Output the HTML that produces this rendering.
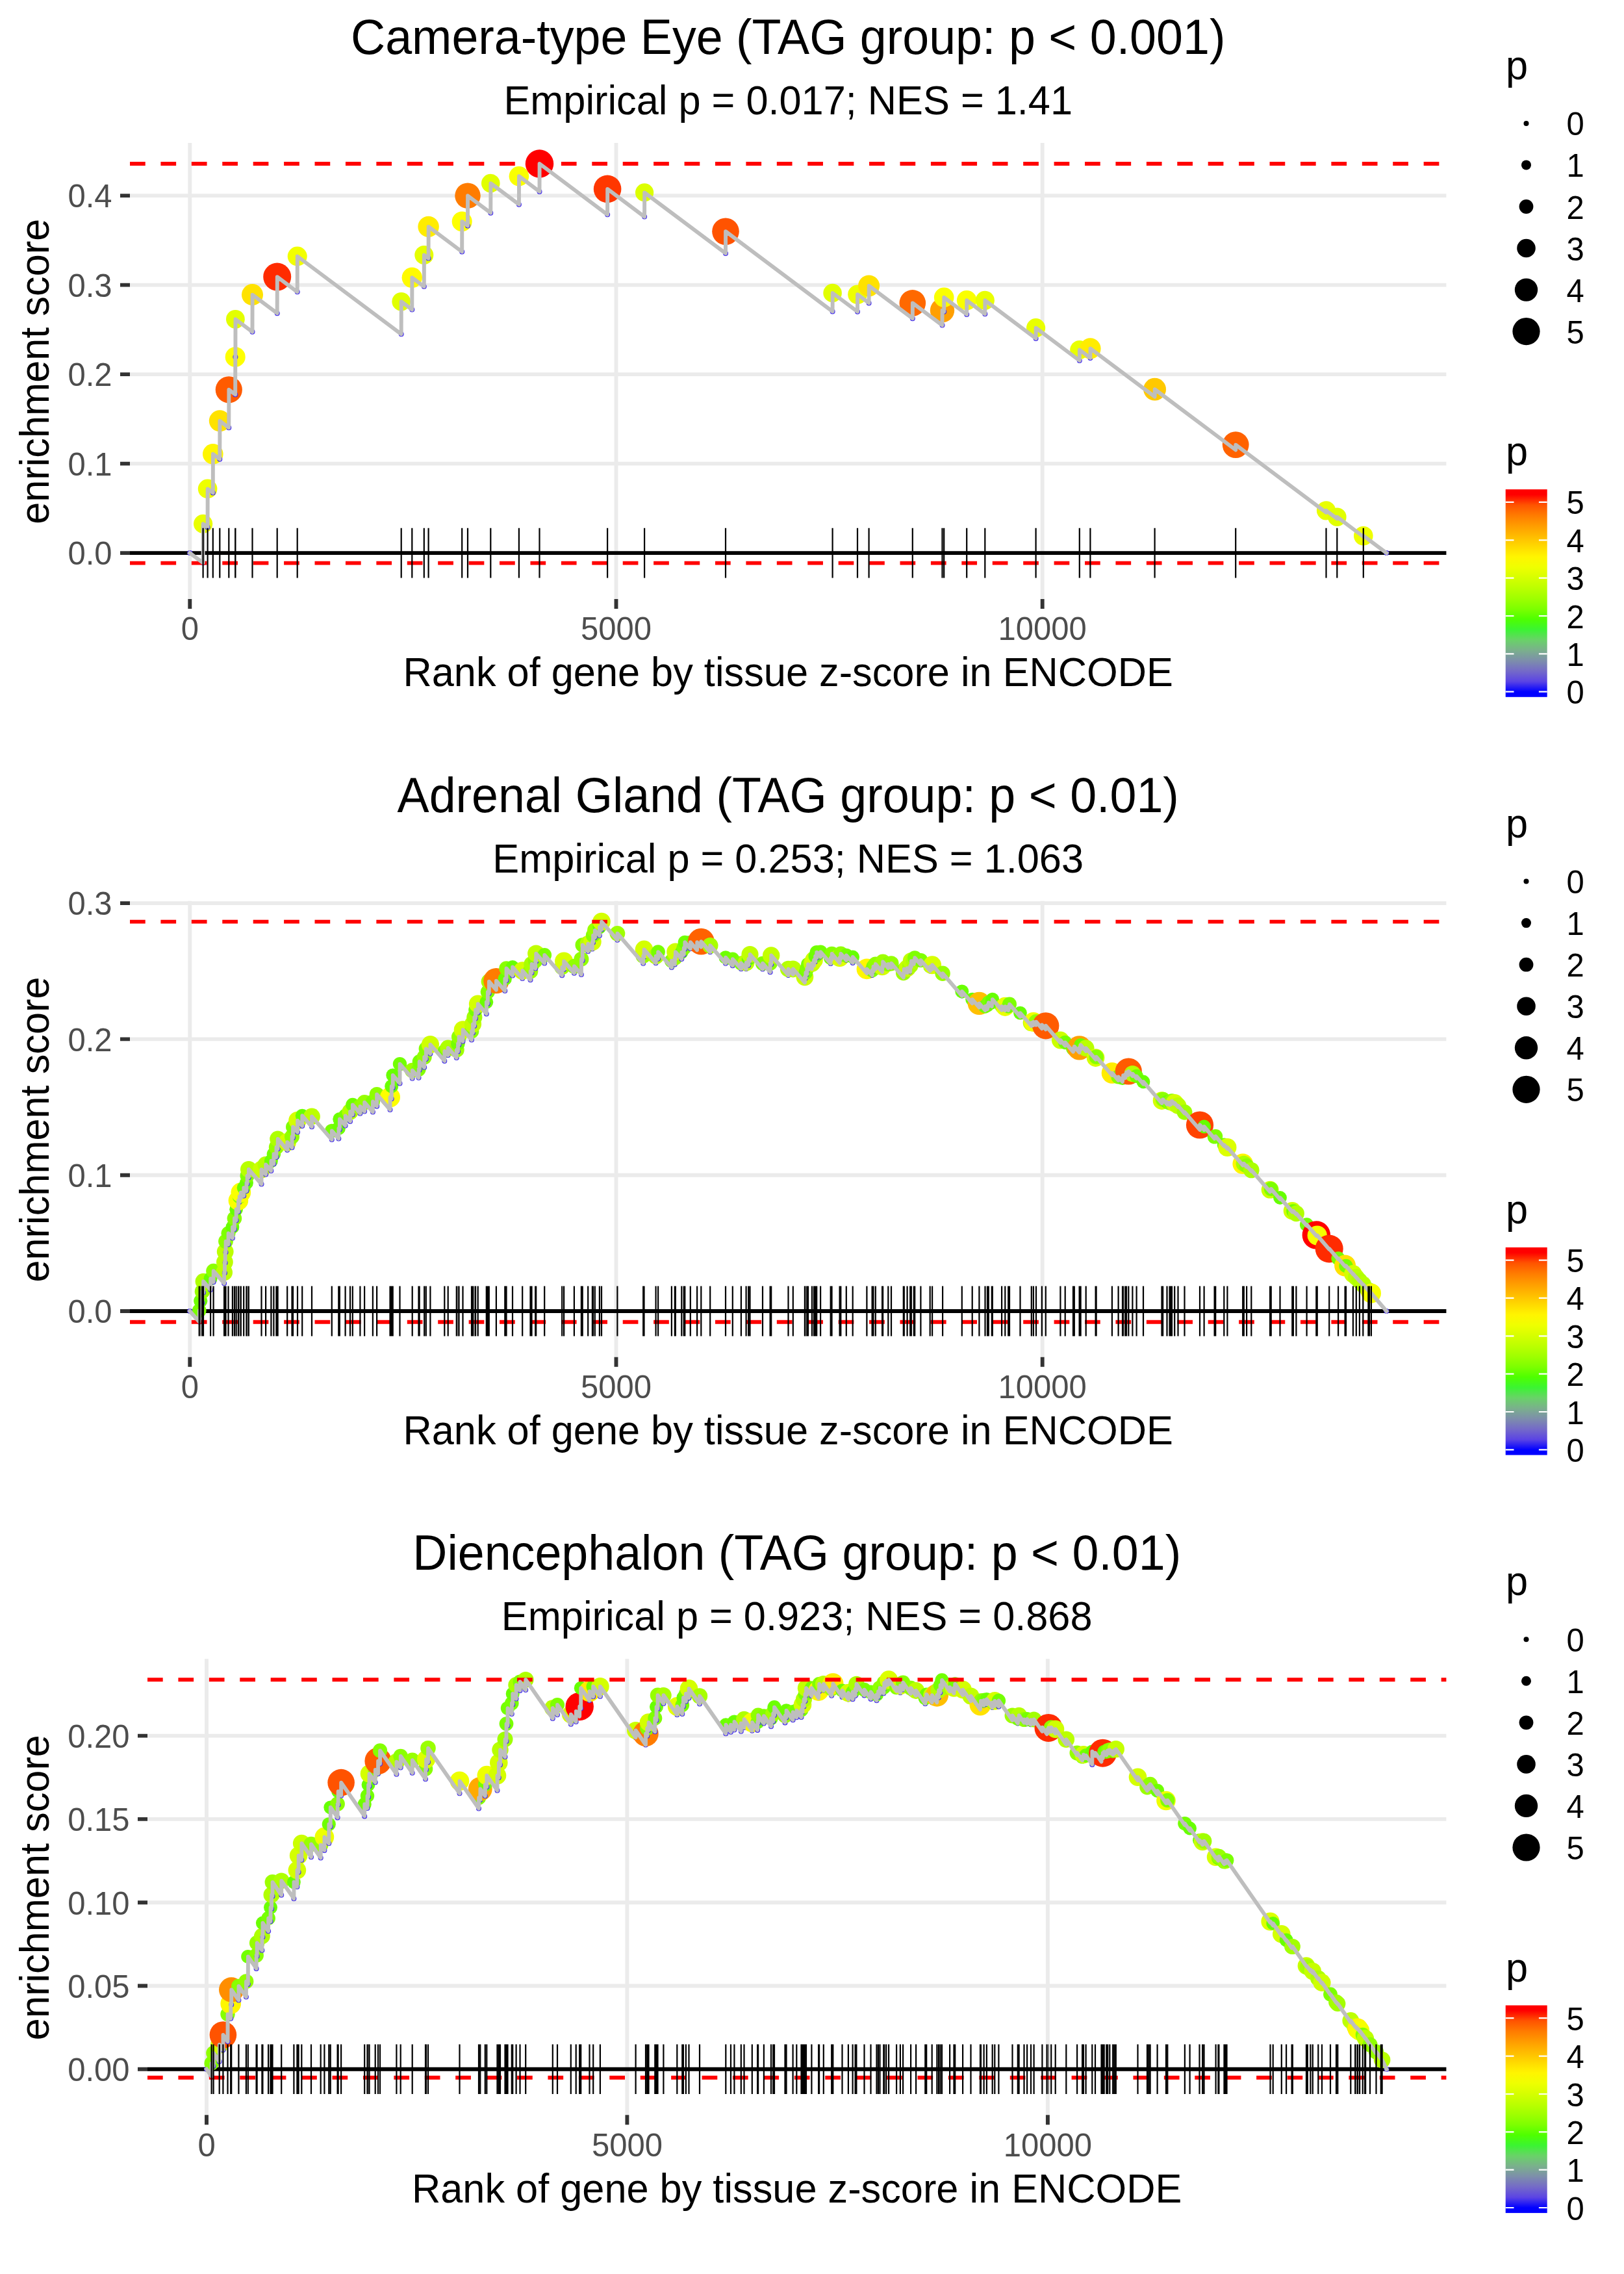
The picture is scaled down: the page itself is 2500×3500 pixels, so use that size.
<!DOCTYPE html><html><head><meta charset="utf-8"><title>GSEA enrichment plots</title><style>html,body{margin:0;padding:0;background:#fff}svg{display:block}</style></head><body><svg width="2500" height="3500" viewBox="0 0 2500 3500">
<defs><linearGradient id="cb" x1="0" y1="0" x2="0" y2="1"><stop offset="0.0250" stop-color="#FF0000"/><stop offset="0.0750" stop-color="#FF5300"/><stop offset="0.1250" stop-color="#FF7B00"/><stop offset="0.1750" stop-color="#FF9C00"/><stop offset="0.2250" stop-color="#FFBB00"/><stop offset="0.2750" stop-color="#FFD900"/><stop offset="0.3250" stop-color="#FFF500"/><stop offset="0.3750" stop-color="#EFFF00"/><stop offset="0.4250" stop-color="#D6FF00"/><stop offset="0.4750" stop-color="#BCFF00"/><stop offset="0.5250" stop-color="#9FFF00"/><stop offset="0.5750" stop-color="#7DFF00"/><stop offset="0.6250" stop-color="#4EFF00"/><stop offset="0.6750" stop-color="#3BF432"/><stop offset="0.7250" stop-color="#69D268"/><stop offset="0.7750" stop-color="#7AB08C"/><stop offset="0.8250" stop-color="#7D8EAB"/><stop offset="0.8750" stop-color="#746AC8"/><stop offset="0.9250" stop-color="#5B44E4"/><stop offset="0.9750" stop-color="#0000FF"/></linearGradient></defs>
<rect width="2500" height="3500" fill="#FFFFFF"/>
<g>
<path d="M200 851.1H2226.4M200 713.6H2226.4M200 576.1H2226.4M200 438.6H2226.4M200 301.1H2226.4M292.3 220V922M948.5 220V922M1604.7 220V922" stroke="#EBEBEB" stroke-width="5.9" fill="none"/>
<path d="M200 851.1H2226.4" stroke="#000" stroke-width="5.93" fill="none"/>
<circle cx="292.3" cy="851.1" r="4" fill="#422BF2"/><circle cx="312.6" cy="866.3" r="4" fill="#422BF2"/><circle cx="312.6" cy="806.3" r="14.6" fill="#E9FF00"/><circle cx="319.6" cy="811.5" r="4" fill="#422BF2"/><circle cx="319.6" cy="752.4" r="14.8" fill="#EEFF00"/><circle cx="327.8" cy="758.5" r="4" fill="#422BF2"/><circle cx="327.8" cy="698.8" r="15.8" fill="#FFF600"/><circle cx="338.3" cy="706.7" r="4" fill="#422BF2"/><circle cx="338.3" cy="647.8" r="16.5" fill="#FFE200"/><circle cx="352.3" cy="658.3" r="4" fill="#422BF2"/><circle cx="352.3" cy="599.8" r="20.6" fill="#FF5B00"/><circle cx="362.2" cy="607.2" r="4" fill="#422BF2"/><circle cx="362.2" cy="549.4" r="15.5" fill="#FEFF00"/><circle cx="362.4" cy="549.5" r="4" fill="#422BF2"/><circle cx="362.4" cy="491.3" r="14.4" fill="#E3FF00"/><circle cx="388.5" cy="510.8" r="4" fill="#422BF2"/><circle cx="388.5" cy="453.6" r="16.5" fill="#FFE200"/><circle cx="426.7" cy="482.2" r="4" fill="#422BF2"/><circle cx="426.7" cy="426.1" r="21.5" fill="#FF2B00"/><circle cx="457.7" cy="449.3" r="4" fill="#422BF2"/><circle cx="457.7" cy="394.5" r="15" fill="#F2FF00"/><circle cx="617.7" cy="514.3" r="4" fill="#422BF2"/><circle cx="617.7" cy="464.2" r="14.3" fill="#E1FF00"/><circle cx="634.3" cy="476.6" r="4" fill="#422BF2"/><circle cx="634.3" cy="427.3" r="15.7" fill="#FFFB00"/><circle cx="652.8" cy="441.1" r="4" fill="#422BF2"/><circle cx="652.8" cy="392.5" r="14.5" fill="#E5FF00"/><circle cx="659.6" cy="397.6" r="4" fill="#422BF2"/><circle cx="659.6" cy="348.9" r="16.2" fill="#FFEC00"/><circle cx="711.2" cy="387.5" r="4" fill="#422BF2"/><circle cx="711.2" cy="340.9" r="15.5" fill="#FEFF00"/><circle cx="720" cy="347.5" r="4" fill="#422BF2"/><circle cx="720" cy="301.3" r="19.7" fill="#FF7C00"/><circle cx="755.3" cy="327.7" r="4" fill="#422BF2"/><circle cx="755.3" cy="282.1" r="14.3" fill="#E1FF00"/><circle cx="798.9" cy="314.7" r="4" fill="#422BF2"/><circle cx="798.9" cy="271.2" r="15.3" fill="#FAFF00"/><circle cx="830.5" cy="294.9" r="4" fill="#422BF2"/><circle cx="830.5" cy="252" r="21.7" fill="#FF0000"/><circle cx="935.1" cy="330.3" r="4" fill="#422BF2"/><circle cx="935.1" cy="290.9" r="21.3" fill="#FF3700"/><circle cx="992.1" cy="333.6" r="4" fill="#422BF2"/><circle cx="992.1" cy="296.4" r="14.1" fill="#DCFF00"/><circle cx="1117" cy="389.9" r="4" fill="#422BF2"/><circle cx="1117" cy="356.2" r="20.8" fill="#FF5300"/><circle cx="1281.6" cy="479.4" r="4" fill="#422BF2"/><circle cx="1281.6" cy="451" r="14.3" fill="#E1FF00"/><circle cx="1320" cy="479.7" r="4" fill="#422BF2"/><circle cx="1320" cy="453.2" r="14.8" fill="#EEFF00"/><circle cx="1337.6" cy="466.4" r="4" fill="#422BF2"/><circle cx="1337.6" cy="439.9" r="16.5" fill="#FFE200"/><circle cx="1404.8" cy="490.2" r="4" fill="#422BF2"/><circle cx="1404.8" cy="466.4" r="20.3" fill="#FF6900"/><circle cx="1450.5" cy="500.6" r="4" fill="#422BF2"/><circle cx="1450.5" cy="477.8" r="18.7" fill="#FF9F00"/><circle cx="1453.2" cy="479.8" r="4" fill="#422BF2"/><circle cx="1453.2" cy="457.8" r="15.3" fill="#FAFF00"/><circle cx="1488.2" cy="484" r="4" fill="#422BF2"/><circle cx="1488.2" cy="462.3" r="15.3" fill="#FAFF00"/><circle cx="1516.3" cy="483.3" r="4" fill="#422BF2"/><circle cx="1516.3" cy="462.3" r="14.6" fill="#E9FF00"/><circle cx="1594.6" cy="520.9" r="4" fill="#422BF2"/><circle cx="1594.6" cy="504.7" r="14.6" fill="#E9FF00"/><circle cx="1661.8" cy="555" r="4" fill="#422BF2"/><circle cx="1661.8" cy="538.5" r="14.6" fill="#E9FF00"/><circle cx="1678.4" cy="550.9" r="4" fill="#422BF2"/><circle cx="1678.4" cy="536.4" r="16.2" fill="#FFEC00"/><circle cx="1777.6" cy="610.7" r="4" fill="#422BF2"/><circle cx="1777.6" cy="599.2" r="17.4" fill="#FFC900"/><circle cx="1902.2" cy="692.5" r="4" fill="#422BF2"/><circle cx="1902.2" cy="684.6" r="20.4" fill="#FF6200"/><circle cx="2041.5" cy="788.9" r="4" fill="#422BF2"/><circle cx="2041.5" cy="785.8" r="14.6" fill="#E9FF00"/><circle cx="2058.3" cy="798.4" r="4" fill="#422BF2"/><circle cx="2058.3" cy="795.7" r="14.3" fill="#E1FF00"/><circle cx="2098.8" cy="826" r="4" fill="#422BF2"/><circle cx="2098.8" cy="824.7" r="14.8" fill="#EEFF00"/><circle cx="2134.3" cy="851.1" r="4" fill="#422BF2"/>
<path d="M200 252H2226.4M200 866.6H2226.4" stroke="#FF0000" stroke-width="5.93" stroke-dasharray="23.71 23.71" fill="none"/>
<path d="M292.3 851.1L312.6 866.3L312.7 806.3L319.6 811.5L319.7 752.4L327.8 758.5L327.9 698.8L338.3 706.7L338.4 647.8L352.3 658.3L352.4 599.8L362.2 607.2L362.3 549.4L362.4 549.5L362.5 491.3L388.5 510.8L388.6 453.6L426.7 482.2L426.8 426.1L457.7 449.3L457.8 394.5L617.7 514.3L617.8 464.2L634.3 476.6L634.4 427.3L652.8 441.1L652.9 392.5L659.6 397.6L659.7 348.9L711.2 387.5L711.3 340.9L720 347.5L720.1 301.3L755.3 327.7L755.4 282.1L798.9 314.7L799 271.2L830.5 294.9L830.6 252L935.1 330.3L935.2 290.9L992.1 333.6L992.2 296.4L1117 389.9L1117.1 356.2L1281.6 479.4L1281.7 451L1320 479.7L1320.1 453.2L1337.6 466.4L1337.7 439.9L1404.8 490.2L1404.9 466.4L1450.5 500.6L1450.6 477.8L1453.2 479.8L1453.3 457.8L1488.2 484L1488.3 462.3L1516.3 483.3L1516.4 462.3L1594.6 520.9L1594.7 504.7L1661.8 555L1661.9 538.5L1678.4 550.9L1678.5 536.4L1777.6 610.7L1777.7 599.2L1902.2 692.5L1902.3 684.6L2041.5 788.9L2041.6 785.8L2058.3 798.4L2058.4 795.7L2098.8 826L2098.9 824.7L2134.3 851.1" stroke="#BEBEBE" stroke-width="5.93" stroke-linejoin="round" stroke-linecap="square" fill="none"/>
<path d="M312.6 812.7V889.5M319.6 812.7V889.5M327.8 812.7V889.5M338.3 812.7V889.5M352.3 812.7V889.5M362.2 812.7V889.5M362.4 812.7V889.5M388.5 812.7V889.5M426.7 812.7V889.5M457.7 812.7V889.5M617.7 812.7V889.5M634.3 812.7V889.5M652.8 812.7V889.5M659.6 812.7V889.5M711.2 812.7V889.5M720 812.7V889.5M755.3 812.7V889.5M798.9 812.7V889.5M830.5 812.7V889.5M935.1 812.7V889.5M992.1 812.7V889.5M1117 812.7V889.5M1281.6 812.7V889.5M1320 812.7V889.5M1337.6 812.7V889.5M1404.8 812.7V889.5M1450.5 812.7V889.5M1453.2 812.7V889.5M1488.2 812.7V889.5M1516.3 812.7V889.5M1594.6 812.7V889.5M1661.8 812.7V889.5M1678.4 812.7V889.5M1777.6 812.7V889.5M1902.2 812.7V889.5M2041.5 812.7V889.5M2058.3 812.7V889.5M2098.8 812.7V889.5" stroke="#000" stroke-width="2.2" fill="none"/>
<path d="M185 851.1H200M185 713.6H200M185 576.1H200M185 438.6H200M185 301.1H200M292.3 922V937M948.5 922V937M1604.7 922V937" stroke="#333333" stroke-width="5.9" fill="none"/>
<g font-family="'Liberation Sans', Arial, Helvetica, sans-serif" font-size="49" fill="#4D4D4D">
<text transform="translate(172.5 869.4) scale(1 1.03)" text-anchor="end">0.0</text>
<text transform="translate(172.5 731.9) scale(1 1.03)" text-anchor="end">0.1</text>
<text transform="translate(172.5 594.4) scale(1 1.03)" text-anchor="end">0.2</text>
<text transform="translate(172.5 456.9) scale(1 1.03)" text-anchor="end">0.3</text>
<text transform="translate(172.5 319.4) scale(1 1.03)" text-anchor="end">0.4</text>
<text transform="translate(292.3 985.2) scale(1 1.03)" text-anchor="middle">0</text>
<text transform="translate(948.5 985.2) scale(1 1.03)" text-anchor="middle">5000</text>
<text transform="translate(1604.7 985.2) scale(1 1.03)" text-anchor="middle">10000</text>
</g>
<g font-family="'Liberation Sans', Arial, Helvetica, sans-serif" fill="#000">
<text transform="translate(1213.2 82.9) scale(1 1.03)" text-anchor="middle" font-size="73.6">Camera-type Eye (TAG group: p &lt; 0.001)</text>
<text transform="translate(1213.2 175.9) scale(1 1.03)" text-anchor="middle" font-size="61.3">Empirical p = 0.017; NES = 1.41</text>
<text transform="translate(1213.2 1056.3) scale(1 1.03)" text-anchor="middle" font-size="61.3">Rank of gene by tissue z-score in ENCODE</text>
<text transform="translate(75.1 571.8) rotate(-90) scale(1 1.03)" text-anchor="middle" font-size="61.3">enrichment score</text>
<text transform="translate(2318 121.8) scale(1 1.03)" font-size="61.3">p</text>
<text transform="translate(2318 716.4) scale(1 1.03)" font-size="61.3">p</text>
<circle cx="2349.5" cy="189.9" r="4"/>
<text transform="translate(2411.5 208.4) scale(1 1.03)" font-size="49">0</text>
<text transform="translate(2411.5 1083.2) scale(1 1.03)" font-size="49">0</text>
<circle cx="2349.5" cy="253.9" r="7.5"/>
<text transform="translate(2411.5 272.4) scale(1 1.03)" font-size="49">1</text>
<text transform="translate(2411.5 1024.8) scale(1 1.03)" font-size="49">1</text>
<circle cx="2349.5" cy="318" r="10.9"/>
<text transform="translate(2411.5 336.5) scale(1 1.03)" font-size="49">2</text>
<text transform="translate(2411.5 966.5) scale(1 1.03)" font-size="49">2</text>
<circle cx="2349.5" cy="382" r="14.3"/>
<text transform="translate(2411.5 400.5) scale(1 1.03)" font-size="49">3</text>
<text transform="translate(2411.5 908.1) scale(1 1.03)" font-size="49">3</text>
<circle cx="2349.5" cy="446.1" r="17.7"/>
<text transform="translate(2411.5 464.6) scale(1 1.03)" font-size="49">4</text>
<text transform="translate(2411.5 849.8) scale(1 1.03)" font-size="49">4</text>
<circle cx="2349.5" cy="510.1" r="21.1"/>
<text transform="translate(2411.5 528.6) scale(1 1.03)" font-size="49">5</text>
<text transform="translate(2411.5 791.4) scale(1 1.03)" font-size="49">5</text>
</g>
<rect x="2317.7" y="753.2" width="64" height="319.6" fill="url(#cb)"/>
<path d="M2317.7 1064.7h12.8M2381.7 1064.7h-12.8M2317.7 1006.3h12.8M2381.7 1006.3h-12.8M2317.7 948h12.8M2381.7 948h-12.8M2317.7 889.6h12.8M2381.7 889.6h-12.8M2317.7 831.3h12.8M2381.7 831.3h-12.8M2317.7 772.9h12.8M2381.7 772.9h-12.8" stroke="#FFF" stroke-width="2.2" fill="none"/>
</g>
<g>
<path d="M200 2018H2226.4M200 1808.7H2226.4M200 1599.4H2226.4M200 1390.1H2226.4M292.3 1386.7V2088.7M948.5 1386.7V2088.7M1604.7 1386.7V2088.7" stroke="#EBEBEB" stroke-width="5.9" fill="none"/>
<path d="M200 2018H2226.4" stroke="#000" stroke-width="5.93" fill="none"/>
<circle cx="292.3" cy="2018" r="4" fill="#422BF2"/><circle cx="306.7" cy="2034.6" r="4" fill="#422BF2"/><circle cx="306.7" cy="2017.2" r="10.9" fill="#7AFF00"/><circle cx="308.8" cy="2019.6" r="4" fill="#422BF2"/><circle cx="308.8" cy="2002.2" r="10.6" fill="#6EFF00"/><circle cx="311.4" cy="2005.2" r="4" fill="#422BF2"/><circle cx="311.4" cy="1987.8" r="11.7" fill="#99FF00"/><circle cx="313" cy="1989.6" r="4" fill="#422BF2"/><circle cx="313" cy="1972.2" r="12.4" fill="#AEFF00"/><circle cx="324.1" cy="1985" r="4" fill="#422BF2"/><circle cx="324.1" cy="1968" r="10.5" fill="#69FF00"/><circle cx="328.6" cy="1973.2" r="4" fill="#422BF2"/><circle cx="328.6" cy="1956.2" r="11.4" fill="#8CFF00"/><circle cx="345.1" cy="1975.3" r="4" fill="#422BF2"/><circle cx="345.1" cy="1958.4" r="12.9" fill="#BDFF00"/><circle cx="345.9" cy="1959.3" r="4" fill="#422BF2"/><circle cx="345.9" cy="1942.5" r="12.9" fill="#BDFF00"/><circle cx="346.7" cy="1943.4" r="4" fill="#422BF2"/><circle cx="346.7" cy="1926.5" r="12.9" fill="#BDFF00"/><circle cx="347.5" cy="1927.5" r="4" fill="#422BF2"/><circle cx="347.5" cy="1910.6" r="11.4" fill="#8DFF00"/><circle cx="351.5" cy="1915.2" r="4" fill="#422BF2"/><circle cx="351.5" cy="1898.2" r="11" fill="#7EFF00"/><circle cx="357.9" cy="1905.6" r="4" fill="#422BF2"/><circle cx="357.9" cy="1888.7" r="10.4" fill="#68FF00"/><circle cx="360.9" cy="1892.1" r="4" fill="#422BF2"/><circle cx="360.9" cy="1875.2" r="11.3" fill="#8AFF00"/><circle cx="363.6" cy="1878.3" r="4" fill="#422BF2"/><circle cx="363.6" cy="1861.3" r="10.4" fill="#67FF00"/><circle cx="366.9" cy="1865.1" r="4" fill="#422BF2"/><circle cx="366.9" cy="1847.8" r="15.3" fill="#FAFF00"/><circle cx="368.7" cy="1849.9" r="4" fill="#422BF2"/><circle cx="368.7" cy="1841.5" r="11.1" fill="#83FF00"/><circle cx="370.8" cy="1843.9" r="4" fill="#422BF2"/><circle cx="370.8" cy="1835.5" r="15.3" fill="#FAFF00"/><circle cx="375.2" cy="1840.6" r="4" fill="#422BF2"/><circle cx="375.2" cy="1828.2" r="10.5" fill="#69FF00"/><circle cx="379.4" cy="1833" r="4" fill="#422BF2"/><circle cx="379.4" cy="1820.7" r="10.5" fill="#6AFF00"/><circle cx="380.6" cy="1822" r="4" fill="#422BF2"/><circle cx="380.6" cy="1809.6" r="11.1" fill="#82FF00"/><circle cx="382.8" cy="1812.2" r="4" fill="#422BF2"/><circle cx="382.8" cy="1799.8" r="12.8" fill="#B8FF00"/><circle cx="402.5" cy="1822.5" r="4" fill="#422BF2"/><circle cx="402.5" cy="1800" r="13.4" fill="#CBFF00"/><circle cx="409.1" cy="1807.6" r="4" fill="#422BF2"/><circle cx="409.1" cy="1792.4" r="12.6" fill="#B5FF00"/><circle cx="417.4" cy="1802" r="4" fill="#422BF2"/><circle cx="417.4" cy="1786.8" r="10.5" fill="#6CFF00"/><circle cx="421.4" cy="1791.4" r="4" fill="#422BF2"/><circle cx="421.4" cy="1776.2" r="10.7" fill="#73FF00"/><circle cx="425.4" cy="1780.9" r="4" fill="#422BF2"/><circle cx="425.4" cy="1765.7" r="11.6" fill="#96FF00"/><circle cx="427.6" cy="1768.2" r="4" fill="#422BF2"/><circle cx="427.6" cy="1753" r="12.4" fill="#AEFF00"/><circle cx="442.2" cy="1769.9" r="4" fill="#422BF2"/><circle cx="442.2" cy="1757.9" r="13.8" fill="#D4FF00"/><circle cx="449.5" cy="1766.3" r="4" fill="#422BF2"/><circle cx="449.5" cy="1749.5" r="11.5" fill="#91FF00"/><circle cx="451" cy="1751.3" r="4" fill="#422BF2"/><circle cx="451" cy="1734.5" r="11" fill="#80FF00"/><circle cx="458" cy="1742.6" r="4" fill="#422BF2"/><circle cx="458" cy="1724.6" r="13.8" fill="#D4FF00"/><circle cx="465.2" cy="1732.9" r="4" fill="#422BF2"/><circle cx="465.2" cy="1717.2" r="10.4" fill="#68FF00"/><circle cx="480" cy="1734.3" r="4" fill="#422BF2"/><circle cx="480" cy="1718.5" r="12.9" fill="#BCFF00"/><circle cx="510.8" cy="1754.1" r="4" fill="#422BF2"/><circle cx="510.8" cy="1740.5" r="10.8" fill="#78FF00"/><circle cx="521.3" cy="1752.6" r="4" fill="#422BF2"/><circle cx="521.3" cy="1736.6" r="10.6" fill="#6EFF00"/><circle cx="522.8" cy="1738.4" r="4" fill="#422BF2"/><circle cx="522.8" cy="1722.4" r="10.5" fill="#6CFF00"/><circle cx="531.6" cy="1732.6" r="4" fill="#422BF2"/><circle cx="531.6" cy="1717.4" r="10.8" fill="#79FF00"/><circle cx="539" cy="1725.9" r="4" fill="#422BF2"/><circle cx="539" cy="1711" r="12.6" fill="#B2FF00"/><circle cx="542.8" cy="1715.4" r="4" fill="#422BF2"/><circle cx="542.8" cy="1700.4" r="10.6" fill="#70FF00"/><circle cx="554.4" cy="1713.8" r="4" fill="#422BF2"/><circle cx="554.4" cy="1702.9" r="11.5" fill="#91FF00"/><circle cx="561.1" cy="1710.6" r="4" fill="#422BF2"/><circle cx="561.1" cy="1696.7" r="11.7" fill="#97FF00"/><circle cx="573.9" cy="1711.5" r="4" fill="#422BF2"/><circle cx="573.9" cy="1695.5" r="11" fill="#7EFF00"/><circle cx="580.1" cy="1702.7" r="4" fill="#422BF2"/><circle cx="580.1" cy="1684.4" r="11.4" fill="#8EFF00"/><circle cx="600.5" cy="1708" r="4" fill="#422BF2"/><circle cx="600.5" cy="1688.7" r="15.5" fill="#FEFF00"/><circle cx="602.7" cy="1691.2" r="4" fill="#422BF2"/><circle cx="602.7" cy="1671.9" r="10.5" fill="#69FF00"/><circle cx="604.7" cy="1674.2" r="4" fill="#422BF2"/><circle cx="604.7" cy="1654.9" r="10.4" fill="#68FF00"/><circle cx="615.5" cy="1667.4" r="4" fill="#422BF2"/><circle cx="615.5" cy="1637.6" r="10.7" fill="#72FF00"/><circle cx="634.7" cy="1659.8" r="4" fill="#422BF2"/><circle cx="634.7" cy="1647.5" r="11.8" fill="#9DFF00"/><circle cx="644.5" cy="1658.8" r="4" fill="#422BF2"/><circle cx="644.5" cy="1645.8" r="11.1" fill="#83FF00"/><circle cx="645.6" cy="1647" r="4" fill="#422BF2"/><circle cx="645.6" cy="1634" r="10.9" fill="#7AFF00"/><circle cx="653.2" cy="1642.8" r="4" fill="#422BF2"/><circle cx="653.2" cy="1627" r="11.5" fill="#92FF00"/><circle cx="655.8" cy="1630" r="4" fill="#422BF2"/><circle cx="655.8" cy="1614.2" r="11.2" fill="#85FF00"/><circle cx="662.4" cy="1621.8" r="4" fill="#422BF2"/><circle cx="662.4" cy="1607.6" r="13.6" fill="#CFFF00"/><circle cx="684.3" cy="1632.9" r="4" fill="#422BF2"/><circle cx="684.3" cy="1617.9" r="10.8" fill="#79FF00"/><circle cx="689.7" cy="1624.1" r="4" fill="#422BF2"/><circle cx="689.7" cy="1613" r="12.4" fill="#AEFF00"/><circle cx="702.8" cy="1628.1" r="4" fill="#422BF2"/><circle cx="702.8" cy="1615.9" r="11.9" fill="#9FFF00"/><circle cx="705" cy="1618.5" r="4" fill="#422BF2"/><circle cx="705" cy="1606.3" r="10.7" fill="#75FF00"/><circle cx="706.5" cy="1608" r="4" fill="#422BF2"/><circle cx="706.5" cy="1595.8" r="11.5" fill="#90FF00"/><circle cx="712.5" cy="1602.7" r="4" fill="#422BF2"/><circle cx="712.5" cy="1585" r="13.8" fill="#D4FF00"/><circle cx="726" cy="1600.6" r="4" fill="#422BF2"/><circle cx="726" cy="1587.3" r="11.3" fill="#8BFF00"/><circle cx="728" cy="1589.6" r="4" fill="#422BF2"/><circle cx="728" cy="1576.3" r="13.1" fill="#C1FF00"/><circle cx="730.3" cy="1579" r="4" fill="#422BF2"/><circle cx="730.3" cy="1565.7" r="12.1" fill="#A3FF00"/><circle cx="732" cy="1567.6" r="4" fill="#422BF2"/><circle cx="732" cy="1554.3" r="10.8" fill="#78FF00"/><circle cx="735.7" cy="1558.6" r="4" fill="#422BF2"/><circle cx="735.7" cy="1545.3" r="13.8" fill="#D4FF00"/><circle cx="748.8" cy="1560.4" r="4" fill="#422BF2"/><circle cx="748.8" cy="1542.3" r="10.5" fill="#6CFF00"/><circle cx="750.8" cy="1544.7" r="4" fill="#422BF2"/><circle cx="750.8" cy="1526.6" r="11.1" fill="#82FF00"/><circle cx="752.8" cy="1528.9" r="4" fill="#422BF2"/><circle cx="752.8" cy="1510.8" r="12.2" fill="#A8FF00"/><circle cx="763.9" cy="1523.6" r="4" fill="#422BF2"/><circle cx="763.9" cy="1509.6" r="19.7" fill="#FF7C00"/><circle cx="777.3" cy="1525.1" r="4" fill="#422BF2"/><circle cx="777.3" cy="1506.5" r="10.6" fill="#6EFF00"/><circle cx="779.5" cy="1509.1" r="4" fill="#422BF2"/><circle cx="779.5" cy="1490.5" r="11.2" fill="#88FF00"/><circle cx="789" cy="1501.5" r="4" fill="#422BF2"/><circle cx="789" cy="1488.5" r="10.4" fill="#67FF00"/><circle cx="804.2" cy="1506.1" r="4" fill="#422BF2"/><circle cx="804.2" cy="1494" r="13.8" fill="#D4FF00"/><circle cx="816.5" cy="1508.2" r="4" fill="#422BF2"/><circle cx="816.5" cy="1494.9" r="11.8" fill="#9BFF00"/><circle cx="818.5" cy="1497.3" r="4" fill="#422BF2"/><circle cx="818.5" cy="1484" r="12.2" fill="#A9FF00"/><circle cx="824.2" cy="1490.6" r="4" fill="#422BF2"/><circle cx="824.2" cy="1478.5" r="11.5" fill="#90FF00"/><circle cx="825.2" cy="1479.7" r="4" fill="#422BF2"/><circle cx="825.2" cy="1467.6" r="13.1" fill="#C1FF00"/><circle cx="838.2" cy="1482.6" r="4" fill="#422BF2"/><circle cx="838.2" cy="1470" r="10.9" fill="#7AFF00"/><circle cx="865.2" cy="1501.2" r="4" fill="#422BF2"/><circle cx="865.2" cy="1488.7" r="11.9" fill="#9FFF00"/><circle cx="868.1" cy="1492" r="4" fill="#422BF2"/><circle cx="868.1" cy="1479.5" r="14" fill="#D8FF00"/><circle cx="883.9" cy="1497.7" r="4" fill="#422BF2"/><circle cx="883.9" cy="1487.3" r="11.5" fill="#92FF00"/><circle cx="894.9" cy="1500" r="4" fill="#422BF2"/><circle cx="894.9" cy="1476.2" r="11.5" fill="#91FF00"/><circle cx="896.7" cy="1478.3" r="4" fill="#422BF2"/><circle cx="896.7" cy="1454.5" r="11.2" fill="#85FF00"/><circle cx="905.2" cy="1464.3" r="4" fill="#422BF2"/><circle cx="905.2" cy="1452.8" r="12.7" fill="#B8FF00"/><circle cx="911.9" cy="1460.5" r="4" fill="#422BF2"/><circle cx="911.9" cy="1449.5" r="13.8" fill="#D4FF00"/><circle cx="913" cy="1450.8" r="4" fill="#422BF2"/><circle cx="913" cy="1439.7" r="11.2" fill="#87FF00"/><circle cx="915.8" cy="1442.9" r="4" fill="#422BF2"/><circle cx="915.8" cy="1431.9" r="11.8" fill="#9BFF00"/><circle cx="922.9" cy="1440.1" r="4" fill="#422BF2"/><circle cx="922.9" cy="1427" r="10.5" fill="#68FF00"/><circle cx="926" cy="1430.6" r="4" fill="#422BF2"/><circle cx="926" cy="1418.6" r="13.8" fill="#D4FF00"/><circle cx="950.4" cy="1446.8" r="4" fill="#422BF2"/><circle cx="950.4" cy="1436.8" r="11.9" fill="#9FFF00"/><circle cx="990.2" cy="1482.8" r="4" fill="#422BF2"/><circle cx="990.2" cy="1471.3" r="11.7" fill="#98FF00"/><circle cx="991.5" cy="1472.8" r="4" fill="#422BF2"/><circle cx="991.5" cy="1461.4" r="13.8" fill="#D4FF00"/><circle cx="1009.6" cy="1482.3" r="4" fill="#422BF2"/><circle cx="1009.6" cy="1471.7" r="12.6" fill="#B4FF00"/><circle cx="1013.1" cy="1475.7" r="4" fill="#422BF2"/><circle cx="1013.1" cy="1465.1" r="10.8" fill="#78FF00"/><circle cx="1033.9" cy="1489.1" r="4" fill="#422BF2"/><circle cx="1033.9" cy="1478.7" r="11" fill="#7FFF00"/><circle cx="1038.8" cy="1484.4" r="4" fill="#422BF2"/><circle cx="1038.8" cy="1474.2" r="11.8" fill="#9BFF00"/><circle cx="1039.8" cy="1475.3" r="4" fill="#422BF2"/><circle cx="1039.8" cy="1465.1" r="13.6" fill="#CFFF00"/><circle cx="1049.3" cy="1476.1" r="4" fill="#422BF2"/><circle cx="1049.3" cy="1465.6" r="10.4" fill="#66FF00"/><circle cx="1052.7" cy="1469.5" r="4" fill="#422BF2"/><circle cx="1052.7" cy="1459" r="11.2" fill="#86FF00"/><circle cx="1054.3" cy="1460.8" r="4" fill="#422BF2"/><circle cx="1054.3" cy="1450.3" r="10.6" fill="#6FFF00"/><circle cx="1062.8" cy="1460.1" r="4" fill="#422BF2"/><circle cx="1062.8" cy="1450.3" r="10.5" fill="#6CFF00"/><circle cx="1073.1" cy="1462.2" r="4" fill="#422BF2"/><circle cx="1073.1" cy="1450.3" r="10.4" fill="#68FF00"/><circle cx="1079.3" cy="1457.5" r="4" fill="#422BF2"/><circle cx="1079.3" cy="1449.1" r="20.4" fill="#FF6200"/><circle cx="1093.2" cy="1465.2" r="4" fill="#422BF2"/><circle cx="1093.2" cy="1455.3" r="12.3" fill="#A9FF00"/><circle cx="1117" cy="1482.8" r="4" fill="#422BF2"/><circle cx="1117" cy="1473.7" r="10.5" fill="#6DFF00"/><circle cx="1127.8" cy="1486.2" r="4" fill="#422BF2"/><circle cx="1127.8" cy="1476.2" r="10.7" fill="#75FF00"/><circle cx="1140.9" cy="1491.3" r="4" fill="#422BF2"/><circle cx="1140.9" cy="1482.4" r="11" fill="#80FF00"/><circle cx="1148.6" cy="1491.3" r="4" fill="#422BF2"/><circle cx="1148.6" cy="1481.6" r="13" fill="#BFFF00"/><circle cx="1152.2" cy="1485.7" r="4" fill="#422BF2"/><circle cx="1152.2" cy="1476" r="10.5" fill="#6AFF00"/><circle cx="1154.5" cy="1478.7" r="4" fill="#422BF2"/><circle cx="1154.5" cy="1469" r="13.1" fill="#C1FF00"/><circle cx="1174" cy="1491.5" r="4" fill="#422BF2"/><circle cx="1174" cy="1482.8" r="11.1" fill="#85FF00"/><circle cx="1185.6" cy="1496.2" r="4" fill="#422BF2"/><circle cx="1185.6" cy="1482.4" r="11.4" fill="#8EFF00"/><circle cx="1187.2" cy="1484.3" r="4" fill="#422BF2"/><circle cx="1187.2" cy="1470.5" r="13.2" fill="#C3FF00"/><circle cx="1213.5" cy="1500.9" r="4" fill="#422BF2"/><circle cx="1213.5" cy="1491.4" r="12.6" fill="#B3FF00"/><circle cx="1220.8" cy="1499.8" r="4" fill="#422BF2"/><circle cx="1220.8" cy="1491.4" r="13" fill="#BDFF00"/><circle cx="1238.9" cy="1512.3" r="4" fill="#422BF2"/><circle cx="1238.9" cy="1503.8" r="13.4" fill="#CBFF00"/><circle cx="1240.3" cy="1505.4" r="4" fill="#422BF2"/><circle cx="1240.3" cy="1497" r="10.8" fill="#77FF00"/><circle cx="1242.3" cy="1499.3" r="4" fill="#422BF2"/><circle cx="1242.3" cy="1490.8" r="11.1" fill="#82FF00"/><circle cx="1244" cy="1492.8" r="4" fill="#422BF2"/><circle cx="1244" cy="1484.3" r="10.9" fill="#7DFF00"/><circle cx="1250" cy="1491.2" r="4" fill="#422BF2"/><circle cx="1250" cy="1482.7" r="13.2" fill="#C3FF00"/><circle cx="1253" cy="1486.2" r="4" fill="#422BF2"/><circle cx="1253" cy="1477.7" r="13.8" fill="#D4FF00"/><circle cx="1255.1" cy="1480.1" r="4" fill="#422BF2"/><circle cx="1255.1" cy="1471.7" r="10.6" fill="#6EFF00"/><circle cx="1257.2" cy="1474.1" r="4" fill="#422BF2"/><circle cx="1257.2" cy="1465.6" r="10.6" fill="#70FF00"/><circle cx="1263.1" cy="1472.4" r="4" fill="#422BF2"/><circle cx="1263.1" cy="1465.1" r="10.7" fill="#74FF00"/><circle cx="1278.7" cy="1483.1" r="4" fill="#422BF2"/><circle cx="1278.7" cy="1474.5" r="10.7" fill="#74FF00"/><circle cx="1280.5" cy="1476.6" r="4" fill="#422BF2"/><circle cx="1280.5" cy="1468" r="11.2" fill="#88FF00"/><circle cx="1292.6" cy="1482" r="4" fill="#422BF2"/><circle cx="1292.6" cy="1474" r="14.1" fill="#DCFF00"/><circle cx="1294.3" cy="1476" r="4" fill="#422BF2"/><circle cx="1294.3" cy="1468" r="11.5" fill="#92FF00"/><circle cx="1302.8" cy="1477.8" r="4" fill="#422BF2"/><circle cx="1302.8" cy="1470.5" r="10.8" fill="#76FF00"/><circle cx="1312.7" cy="1481.9" r="4" fill="#422BF2"/><circle cx="1312.7" cy="1473" r="10.4" fill="#65FF00"/><circle cx="1334.4" cy="1498.1" r="4" fill="#422BF2"/><circle cx="1334.4" cy="1491.4" r="15.8" fill="#FFF600"/><circle cx="1342.6" cy="1500.9" r="4" fill="#422BF2"/><circle cx="1342.6" cy="1493.2" r="11.1" fill="#82FF00"/><circle cx="1344.4" cy="1495.3" r="4" fill="#422BF2"/><circle cx="1344.4" cy="1487.7" r="11" fill="#7EFF00"/><circle cx="1347.8" cy="1491.6" r="4" fill="#422BF2"/><circle cx="1347.8" cy="1484" r="11.5" fill="#90FF00"/><circle cx="1358.1" cy="1495.9" r="4" fill="#422BF2"/><circle cx="1358.1" cy="1487.5" r="13.8" fill="#D4FF00"/><circle cx="1359.1" cy="1488.7" r="4" fill="#422BF2"/><circle cx="1359.1" cy="1480.3" r="11.9" fill="#9EFF00"/><circle cx="1367.3" cy="1489.8" r="4" fill="#422BF2"/><circle cx="1367.3" cy="1484" r="11.3" fill="#8BFF00"/><circle cx="1372" cy="1489.4" r="4" fill="#422BF2"/><circle cx="1372" cy="1482.8" r="11.6" fill="#95FF00"/><circle cx="1390.8" cy="1504.5" r="4" fill="#422BF2"/><circle cx="1390.8" cy="1497.4" r="11.8" fill="#9CFF00"/><circle cx="1391.8" cy="1498.5" r="4" fill="#422BF2"/><circle cx="1391.8" cy="1491.4" r="10.4" fill="#68FF00"/><circle cx="1396.6" cy="1496.9" r="4" fill="#422BF2"/><circle cx="1396.6" cy="1490.2" r="13.3" fill="#C8FF00"/><circle cx="1401.2" cy="1495.5" r="4" fill="#422BF2"/><circle cx="1401.2" cy="1486.4" r="12.3" fill="#ABFF00"/><circle cx="1402.8" cy="1488.2" r="4" fill="#422BF2"/><circle cx="1402.8" cy="1479.1" r="13.1" fill="#C0FF00"/><circle cx="1406.8" cy="1483.7" r="4" fill="#422BF2"/><circle cx="1406.8" cy="1478.2" r="12.4" fill="#AFFF00"/><circle cx="1408.2" cy="1479.8" r="4" fill="#422BF2"/><circle cx="1408.2" cy="1474.2" r="11" fill="#80FF00"/><circle cx="1417.4" cy="1484.8" r="4" fill="#422BF2"/><circle cx="1417.4" cy="1477.9" r="11" fill="#80FF00"/><circle cx="1431.7" cy="1494.4" r="4" fill="#422BF2"/><circle cx="1431.7" cy="1487.7" r="10.5" fill="#6BFF00"/><circle cx="1435.1" cy="1491.6" r="4" fill="#422BF2"/><circle cx="1435.1" cy="1485.3" r="14" fill="#D8FF00"/><circle cx="1451.1" cy="1503.8" r="4" fill="#422BF2"/><circle cx="1451.1" cy="1498.3" r="11.7" fill="#97FF00"/><circle cx="1480.8" cy="1532.6" r="4" fill="#422BF2"/><circle cx="1480.8" cy="1525.9" r="10.5" fill="#69FF00"/><circle cx="1496.7" cy="1544.3" r="4" fill="#422BF2"/><circle cx="1496.7" cy="1538.2" r="10.5" fill="#69FF00"/><circle cx="1507.4" cy="1550.6" r="4" fill="#422BF2"/><circle cx="1507.4" cy="1544.4" r="17.7" fill="#FFBF00"/><circle cx="1516.5" cy="1554.9" r="4" fill="#422BF2"/><circle cx="1516.5" cy="1549" r="10.7" fill="#72FF00"/><circle cx="1520" cy="1553" r="4" fill="#422BF2"/><circle cx="1520" cy="1547" r="10.6" fill="#6FFF00"/><circle cx="1521.8" cy="1549.1" r="4" fill="#422BF2"/><circle cx="1521.8" cy="1543.2" r="10.9" fill="#7CFF00"/><circle cx="1526.8" cy="1548.9" r="4" fill="#422BF2"/><circle cx="1526.8" cy="1543" r="10.4" fill="#68FF00"/><circle cx="1527.8" cy="1544.2" r="4" fill="#422BF2"/><circle cx="1527.8" cy="1538.2" r="10.4" fill="#65FF00"/><circle cx="1542.1" cy="1554.7" r="4" fill="#422BF2"/><circle cx="1542.1" cy="1549" r="10.6" fill="#6EFF00"/><circle cx="1547.3" cy="1555" r="4" fill="#422BF2"/><circle cx="1547.3" cy="1549.3" r="14.6" fill="#E9FF00"/><circle cx="1552.2" cy="1554.9" r="4" fill="#422BF2"/><circle cx="1552.2" cy="1549.2" r="10.5" fill="#6BFF00"/><circle cx="1554" cy="1551.3" r="4" fill="#422BF2"/><circle cx="1554" cy="1545.6" r="11" fill="#7DFF00"/><circle cx="1570.5" cy="1564.7" r="4" fill="#422BF2"/><circle cx="1570.5" cy="1559.1" r="10.4" fill="#66FF00"/><circle cx="1587.8" cy="1579.1" r="4" fill="#422BF2"/><circle cx="1587.8" cy="1574.2" r="13.1" fill="#C0FF00"/><circle cx="1590.9" cy="1577.8" r="4" fill="#422BF2"/><circle cx="1590.9" cy="1572.9" r="15" fill="#F2FF00"/><circle cx="1595" cy="1577.6" r="4" fill="#422BF2"/><circle cx="1595" cy="1572.7" r="11.6" fill="#95FF00"/><circle cx="1603.9" cy="1583" r="4" fill="#422BF2"/><circle cx="1603.9" cy="1577.5" r="10.6" fill="#6EFF00"/><circle cx="1609.8" cy="1584.3" r="4" fill="#422BF2"/><circle cx="1609.8" cy="1578.8" r="20.6" fill="#FF5B00"/><circle cx="1632.4" cy="1604.9" r="4" fill="#422BF2"/><circle cx="1632.4" cy="1601" r="13.4" fill="#CBFF00"/><circle cx="1639.7" cy="1609.4" r="4" fill="#422BF2"/><circle cx="1639.7" cy="1604.5" r="10.7" fill="#75FF00"/><circle cx="1652" cy="1618.7" r="4" fill="#422BF2"/><circle cx="1652" cy="1613.7" r="10.9" fill="#7CFF00"/><circle cx="1653.8" cy="1615.8" r="4" fill="#422BF2"/><circle cx="1653.8" cy="1610.8" r="11" fill="#7EFF00"/><circle cx="1661.6" cy="1619.8" r="4" fill="#422BF2"/><circle cx="1661.6" cy="1612.9" r="18.7" fill="#FF9F00"/><circle cx="1663.6" cy="1615.3" r="4" fill="#422BF2"/><circle cx="1663.6" cy="1608.4" r="10.5" fill="#6CFF00"/><circle cx="1671.7" cy="1617.8" r="4" fill="#422BF2"/><circle cx="1671.7" cy="1613.3" r="12.8" fill="#BAFF00"/><circle cx="1686.6" cy="1630.5" r="4" fill="#422BF2"/><circle cx="1686.6" cy="1628.1" r="13.8" fill="#D4FF00"/><circle cx="1687.6" cy="1629.2" r="4" fill="#422BF2"/><circle cx="1687.6" cy="1626.8" r="11.2" fill="#86FF00"/><circle cx="1711.9" cy="1654.9" r="4" fill="#422BF2"/><circle cx="1711.9" cy="1651.5" r="16.2" fill="#FFEC00"/><circle cx="1721.6" cy="1662.7" r="4" fill="#422BF2"/><circle cx="1721.6" cy="1657.4" r="11.2" fill="#88FF00"/><circle cx="1728" cy="1664.8" r="4" fill="#422BF2"/><circle cx="1728" cy="1659.5" r="10.5" fill="#6AFF00"/><circle cx="1729" cy="1660.6" r="4" fill="#422BF2"/><circle cx="1729" cy="1655.3" r="10.5" fill="#6BFF00"/><circle cx="1732.2" cy="1659" r="4" fill="#422BF2"/><circle cx="1732.2" cy="1653.7" r="10.9" fill="#7CFF00"/><circle cx="1734" cy="1655.8" r="4" fill="#422BF2"/><circle cx="1734" cy="1650.5" r="10.8" fill="#76FF00"/><circle cx="1737.3" cy="1654.3" r="4" fill="#422BF2"/><circle cx="1737.3" cy="1649" r="20.6" fill="#FF5B00"/><circle cx="1743.4" cy="1656" r="4" fill="#422BF2"/><circle cx="1743.4" cy="1652.6" r="12.7" fill="#B5FF00"/><circle cx="1749.6" cy="1659.8" r="4" fill="#422BF2"/><circle cx="1749.6" cy="1656.4" r="10.6" fill="#6FFF00"/><circle cx="1760" cy="1668.4" r="4" fill="#422BF2"/><circle cx="1760" cy="1665" r="10.4" fill="#66FF00"/><circle cx="1788.5" cy="1697.9" r="4" fill="#422BF2"/><circle cx="1788.5" cy="1694.1" r="13.8" fill="#D4FF00"/><circle cx="1790.1" cy="1695.9" r="4" fill="#422BF2"/><circle cx="1790.1" cy="1692.1" r="11.3" fill="#8CFF00"/><circle cx="1796.5" cy="1699.5" r="4" fill="#422BF2"/><circle cx="1796.5" cy="1696.1" r="10.6" fill="#6EFF00"/><circle cx="1800.5" cy="1700.7" r="4" fill="#422BF2"/><circle cx="1800.5" cy="1697.3" r="11.4" fill="#8DFF00"/><circle cx="1802.5" cy="1699.6" r="4" fill="#422BF2"/><circle cx="1802.5" cy="1696.3" r="10.4" fill="#66FF00"/><circle cx="1804" cy="1698" r="4" fill="#422BF2"/><circle cx="1804" cy="1694.6" r="11.3" fill="#8CFF00"/><circle cx="1808.2" cy="1699.4" r="4" fill="#422BF2"/><circle cx="1808.2" cy="1697.7" r="13.8" fill="#D4FF00"/><circle cx="1813.5" cy="1703.8" r="4" fill="#422BF2"/><circle cx="1813.5" cy="1702" r="12.9" fill="#BDFF00"/><circle cx="1823.5" cy="1713.6" r="4" fill="#422BF2"/><circle cx="1823.5" cy="1711.8" r="11.9" fill="#9FFF00"/><circle cx="1847" cy="1738.9" r="4" fill="#422BF2"/><circle cx="1847" cy="1731.5" r="21.1" fill="#FF4200"/><circle cx="1853.6" cy="1739.1" r="4" fill="#422BF2"/><circle cx="1853.6" cy="1734" r="10.4" fill="#65FF00"/><circle cx="1869.6" cy="1752.5" r="4" fill="#422BF2"/><circle cx="1869.6" cy="1749.8" r="10.8" fill="#76FF00"/><circle cx="1871.2" cy="1751.7" r="4" fill="#422BF2"/><circle cx="1871.2" cy="1749" r="11" fill="#7EFF00"/><circle cx="1884.3" cy="1764.1" r="4" fill="#422BF2"/><circle cx="1884.3" cy="1762.1" r="10.6" fill="#6FFF00"/><circle cx="1889.4" cy="1768" r="4" fill="#422BF2"/><circle cx="1889.4" cy="1766" r="14.1" fill="#DCFF00"/><circle cx="1913.2" cy="1793.5" r="4" fill="#422BF2"/><circle cx="1913.2" cy="1791.3" r="15.8" fill="#FFF600"/><circle cx="1914.8" cy="1793.2" r="4" fill="#422BF2"/><circle cx="1914.8" cy="1791" r="12.3" fill="#AAFF00"/><circle cx="1919.1" cy="1796" r="4" fill="#422BF2"/><circle cx="1919.1" cy="1794.3" r="11.4" fill="#8CFF00"/><circle cx="1926.3" cy="1802.6" r="4" fill="#422BF2"/><circle cx="1926.3" cy="1801" r="12.3" fill="#ABFF00"/><circle cx="1955.1" cy="1834.3" r="4" fill="#422BF2"/><circle cx="1955.1" cy="1831.2" r="13.4" fill="#CBFF00"/><circle cx="1956.7" cy="1833.1" r="4" fill="#422BF2"/><circle cx="1956.7" cy="1830" r="10.9" fill="#7BFF00"/><circle cx="1970.5" cy="1845.9" r="4" fill="#422BF2"/><circle cx="1970.5" cy="1843.5" r="10.4" fill="#65FF00"/><circle cx="1989.3" cy="1865.2" r="4" fill="#422BF2"/><circle cx="1989.3" cy="1863.7" r="13.6" fill="#CFFF00"/><circle cx="1990.9" cy="1865.5" r="4" fill="#422BF2"/><circle cx="1990.9" cy="1864" r="10.7" fill="#73FF00"/><circle cx="1995.4" cy="1869.2" r="4" fill="#422BF2"/><circle cx="1995.4" cy="1867.7" r="12.5" fill="#B1FF00"/><circle cx="2011.6" cy="1886.5" r="4" fill="#422BF2"/><circle cx="2011.6" cy="1885" r="10.7" fill="#74FF00"/><circle cx="2026.3" cy="1902" r="4" fill="#422BF2"/><circle cx="2026.3" cy="1900.9" r="21.7" fill="#FF0000"/><circle cx="2027.7" cy="1902.5" r="4" fill="#422BF2"/><circle cx="2027.7" cy="1901.5" r="15.1" fill="#F6FF00"/><circle cx="2046.2" cy="1922.9" r="4" fill="#422BF2"/><circle cx="2046.2" cy="1922" r="21.5" fill="#FF2B00"/><circle cx="2060.1" cy="1938.1" r="4" fill="#422BF2"/><circle cx="2060.1" cy="1937" r="10.7" fill="#74FF00"/><circle cx="2070.6" cy="1949.1" r="4" fill="#422BF2"/><circle cx="2070.6" cy="1948" r="16.5" fill="#FFE200"/><circle cx="2072" cy="1949.6" r="4" fill="#422BF2"/><circle cx="2072" cy="1948.5" r="10.7" fill="#74FF00"/><circle cx="2082.9" cy="1961.1" r="4" fill="#422BF2"/><circle cx="2082.9" cy="1960.7" r="13.8" fill="#D4FF00"/><circle cx="2087.8" cy="1966.4" r="4" fill="#422BF2"/><circle cx="2087.8" cy="1966" r="12.9" fill="#BBFF00"/><circle cx="2092.9" cy="1971.9" r="4" fill="#422BF2"/><circle cx="2092.9" cy="1971.3" r="12.5" fill="#B0FF00"/><circle cx="2098.3" cy="1977.6" r="4" fill="#422BF2"/><circle cx="2098.3" cy="1977" r="12.8" fill="#B8FF00"/><circle cx="2106.4" cy="1986.4" r="4" fill="#422BF2"/><circle cx="2106.4" cy="1986" r="12.6" fill="#B3FF00"/><circle cx="2108" cy="1987.9" r="4" fill="#422BF2"/><circle cx="2108" cy="1987.5" r="12.1" fill="#A5FF00"/><circle cx="2110.9" cy="1990.8" r="4" fill="#422BF2"/><circle cx="2110.9" cy="1990.5" r="15.1" fill="#F6FF00"/><circle cx="2134.3" cy="2018" r="4" fill="#422BF2"/>
<path d="M200 1418.6H2226.4M200 2034.7H2226.4" stroke="#FF0000" stroke-width="5.93" stroke-dasharray="23.71 23.71" fill="none"/>
<path d="M292.3 2018L306.7 2034.6L306.8 2017.2L308.8 2019.6L308.9 2002.2L311.4 2005.2L311.5 1987.8L313 1989.6L313.1 1972.2L324.1 1985L324.2 1968L328.6 1973.2L328.7 1956.2L345.1 1975.3L345.2 1958.4L345.9 1959.3L346 1942.5L346.7 1943.4L346.8 1926.5L347.5 1927.5L347.6 1910.6L351.5 1915.2L351.6 1898.2L357.9 1905.6L358 1888.7L360.9 1892.1L361 1875.2L363.6 1878.3L363.7 1861.3L366.9 1865.1L367 1847.8L368.7 1849.9L368.8 1841.5L370.8 1843.9L370.9 1835.5L375.2 1840.6L375.3 1828.2L379.4 1833L379.5 1820.7L380.6 1822L380.7 1809.6L382.8 1812.2L382.9 1799.8L402.5 1822.5L402.6 1800L409.1 1807.6L409.2 1792.4L417.4 1802L417.5 1786.8L421.4 1791.4L421.5 1776.2L425.4 1780.9L425.5 1765.7L427.6 1768.2L427.7 1753L442.2 1769.9L442.3 1757.9L449.5 1766.3L449.6 1749.5L451 1751.3L451.1 1734.5L458 1742.6L458.1 1724.6L465.2 1732.9L465.3 1717.2L480 1734.3L480.1 1718.5L510.8 1754.1L510.9 1740.5L521.3 1752.6L521.4 1736.6L522.8 1738.4L522.9 1722.4L531.6 1732.6L531.7 1717.4L539 1725.9L539.1 1711L542.8 1715.4L542.9 1700.4L554.4 1713.8L554.5 1702.9L561.1 1710.6L561.2 1696.7L573.9 1711.5L574 1695.5L580.1 1702.7L580.2 1684.4L600.5 1708L600.6 1688.7L602.7 1691.2L602.8 1671.9L604.7 1674.2L604.8 1654.9L615.5 1667.4L615.6 1637.6L634.7 1659.8L634.8 1647.5L644.5 1658.8L644.6 1645.8L645.6 1647L645.7 1634L653.2 1642.8L653.3 1627L655.8 1630L655.9 1614.2L662.4 1621.8L662.5 1607.6L684.3 1632.9L684.4 1617.9L689.7 1624.1L689.8 1613L702.8 1628.1L702.9 1615.9L705 1618.5L705.1 1606.3L706.5 1608L706.6 1595.8L712.5 1602.7L712.6 1585L726 1600.6L726.1 1587.3L728 1589.6L728.1 1576.3L730.3 1579L730.4 1565.7L732 1567.6L732.1 1554.3L735.7 1558.6L735.8 1545.3L748.8 1560.4L748.9 1542.3L750.8 1544.7L750.9 1526.6L752.8 1528.9L752.9 1510.8L763.9 1523.6L764 1509.6L777.3 1525.1L777.4 1506.5L779.5 1509.1L779.6 1490.5L789 1501.5L789.1 1488.5L804.2 1506.1L804.3 1494L816.5 1508.2L816.6 1494.9L818.5 1497.3L818.6 1484L824.2 1490.6L824.3 1478.5L825.2 1479.7L825.3 1467.6L838.2 1482.6L838.3 1470L865.2 1501.2L865.3 1488.7L868.1 1492L868.2 1479.5L883.9 1497.7L884 1487.3L894.9 1500L895 1476.2L896.7 1478.3L896.8 1454.5L905.2 1464.3L905.3 1452.8L911.9 1460.5L912 1449.5L913 1450.8L913.1 1439.7L915.8 1442.9L915.9 1431.9L922.9 1440.1L923 1427L926 1430.6L926.1 1418.6L950.4 1446.8L950.5 1436.8L990.2 1482.8L990.3 1471.3L991.5 1472.8L991.6 1461.4L1009.6 1482.3L1009.7 1471.7L1013.1 1475.7L1013.2 1465.1L1033.9 1489.1L1034 1478.7L1038.8 1484.4L1038.9 1474.2L1039.8 1475.3L1039.9 1465.1L1049.3 1476.1L1049.4 1465.6L1052.7 1469.5L1052.8 1459L1054.3 1460.8L1054.4 1450.3L1062.8 1460.1L1062.9 1450.3L1073.1 1462.2L1073.2 1450.3L1079.3 1457.5L1079.4 1449.1L1093.2 1465.2L1093.3 1455.3L1117 1482.8L1117.1 1473.7L1127.8 1486.2L1127.9 1476.2L1140.9 1491.3L1141 1482.4L1148.6 1491.3L1148.7 1481.6L1152.2 1485.7L1152.3 1476L1154.5 1478.7L1154.6 1469L1174 1491.5L1174.1 1482.8L1185.6 1496.2L1185.7 1482.4L1187.2 1484.3L1187.3 1470.5L1213.5 1500.9L1213.6 1491.4L1220.8 1499.8L1220.9 1491.4L1238.9 1512.3L1239 1503.8L1240.3 1505.4L1240.4 1497L1242.3 1499.3L1242.4 1490.8L1244 1492.8L1244.1 1484.3L1250 1491.2L1250.1 1482.7L1253 1486.2L1253.1 1477.7L1255.1 1480.1L1255.2 1471.7L1257.2 1474.1L1257.3 1465.6L1263.1 1472.4L1263.2 1465.1L1278.7 1483.1L1278.8 1474.5L1280.5 1476.6L1280.6 1468L1292.6 1482L1292.7 1474L1294.3 1476L1294.4 1468L1302.8 1477.8L1302.9 1470.5L1312.7 1481.9L1312.8 1473L1334.4 1498.1L1334.5 1491.4L1342.6 1500.9L1342.7 1493.2L1344.4 1495.3L1344.5 1487.7L1347.8 1491.6L1347.9 1484L1358.1 1495.9L1358.2 1487.5L1359.1 1488.7L1359.2 1480.3L1367.3 1489.8L1367.4 1484L1372 1489.4L1372.1 1482.8L1390.8 1504.5L1390.9 1497.4L1391.8 1498.5L1391.9 1491.4L1396.6 1496.9L1396.7 1490.2L1401.2 1495.5L1401.3 1486.4L1402.8 1488.2L1402.9 1479.1L1406.8 1483.7L1406.9 1478.2L1408.2 1479.8L1408.3 1474.2L1417.4 1484.8L1417.5 1477.9L1431.7 1494.4L1431.8 1487.7L1435.1 1491.6L1435.2 1485.3L1451.1 1503.8L1451.2 1498.3L1480.8 1532.6L1480.9 1525.9L1496.7 1544.3L1496.8 1538.2L1507.4 1550.6L1507.5 1544.4L1516.5 1554.9L1516.6 1549L1520 1553L1520.1 1547L1521.8 1549.1L1521.9 1543.2L1526.8 1548.9L1526.9 1543L1527.8 1544.2L1527.9 1538.2L1542.1 1554.7L1542.2 1549L1547.3 1555L1547.4 1549.3L1552.2 1554.9L1552.3 1549.2L1554 1551.3L1554.1 1545.6L1570.5 1564.7L1570.6 1559.1L1587.8 1579.1L1587.9 1574.2L1590.9 1577.8L1591 1572.9L1595 1577.6L1595.1 1572.7L1603.9 1583L1604 1577.5L1609.8 1584.3L1609.9 1578.8L1632.4 1604.9L1632.5 1601L1639.7 1609.4L1639.8 1604.5L1652 1618.7L1652.1 1613.7L1653.8 1615.8L1653.9 1610.8L1661.6 1619.8L1661.7 1612.9L1663.6 1615.3L1663.7 1608.4L1671.7 1617.8L1671.8 1613.3L1686.6 1630.5L1686.7 1628.1L1687.6 1629.2L1687.7 1626.8L1711.9 1654.9L1712 1651.5L1721.6 1662.7L1721.7 1657.4L1728 1664.8L1728.1 1659.5L1729 1660.6L1729.1 1655.3L1732.2 1659L1732.3 1653.7L1734 1655.8L1734.1 1650.5L1737.3 1654.3L1737.4 1649L1743.4 1656L1743.5 1652.6L1749.6 1659.8L1749.7 1656.4L1760 1668.4L1760.1 1665L1788.5 1697.9L1788.6 1694.1L1790.1 1695.9L1790.2 1692.1L1796.5 1699.5L1796.6 1696.1L1800.5 1700.7L1800.6 1697.3L1802.5 1699.6L1802.6 1696.3L1804 1698L1804.1 1694.6L1808.2 1699.4L1808.3 1697.7L1813.5 1703.8L1813.6 1702L1823.5 1713.6L1823.6 1711.8L1847 1738.9L1847.1 1731.5L1853.6 1739.1L1853.7 1734L1869.6 1752.5L1869.7 1749.8L1871.2 1751.7L1871.3 1749L1884.3 1764.1L1884.4 1762.1L1889.4 1768L1889.5 1766L1913.2 1793.5L1913.3 1791.3L1914.8 1793.2L1914.9 1791L1919.1 1796L1919.2 1794.3L1926.3 1802.6L1926.4 1801L1955.1 1834.3L1955.2 1831.2L1956.7 1833.1L1956.8 1830L1970.5 1845.9L1970.6 1843.5L1989.3 1865.2L1989.4 1863.7L1990.9 1865.5L1991 1864L1995.4 1869.2L1995.5 1867.7L2011.6 1886.5L2011.7 1885L2026.3 1902L2026.4 1900.9L2027.7 1902.5L2027.8 1901.5L2046.2 1922.9L2046.3 1922L2060.1 1938.1L2060.2 1937L2070.6 1949.1L2070.7 1948L2072 1949.6L2072.1 1948.5L2082.9 1961.1L2083 1960.7L2087.8 1966.4L2087.9 1966L2092.9 1971.9L2093 1971.3L2098.3 1977.6L2098.4 1977L2106.4 1986.4L2106.5 1986L2108 1987.9L2108.1 1987.5L2110.9 1990.8L2111 1990.5L2134.3 2018" stroke="#BEBEBE" stroke-width="5.93" stroke-linejoin="round" stroke-linecap="square" fill="none"/>
<path d="M306.7 1979.5V2056.5M311.4 1979.5V2056.5M313 1979.5V2056.5M324.1 1979.5V2056.5M328.6 1979.5V2056.5M345.1 1979.5V2056.5M345.9 1979.5V2056.5M346.7 1979.5V2056.5M347.5 1979.5V2056.5M351.5 1979.5V2056.5M357.9 1979.5V2056.5M360.9 1979.5V2056.5M363.6 1979.5V2056.5M366.9 1979.5V2056.5M370.8 1979.5V2056.5M375.2 1979.5V2056.5M379.4 1979.5V2056.5M382.8 1979.5V2056.5M402.5 1979.5V2056.5M409.1 1979.5V2056.5M417.4 1979.5V2056.5M421.4 1979.5V2056.5M425.4 1979.5V2056.5M427.6 1979.5V2056.5M442.2 1979.5V2056.5M449.5 1979.5V2056.5M451 1979.5V2056.5M458 1979.5V2056.5M465.2 1979.5V2056.5M480 1979.5V2056.5M510.8 1979.5V2056.5M521.3 1979.5V2056.5M522.8 1979.5V2056.5M531.6 1979.5V2056.5M539 1979.5V2056.5M542.8 1979.5V2056.5M554.4 1979.5V2056.5M561.1 1979.5V2056.5M573.9 1979.5V2056.5M580.1 1979.5V2056.5M600.5 1979.5V2056.5M602.7 1979.5V2056.5M604.7 1979.5V2056.5M615.5 1979.5V2056.5M634.7 1979.5V2056.5M644.5 1979.5V2056.5M645.6 1979.5V2056.5M653.2 1979.5V2056.5M655.8 1979.5V2056.5M662.4 1979.5V2056.5M684.3 1979.5V2056.5M689.7 1979.5V2056.5M702.8 1979.5V2056.5M706.5 1979.5V2056.5M712.5 1979.5V2056.5M726 1979.5V2056.5M728 1979.5V2056.5M732 1979.5V2056.5M735.7 1979.5V2056.5M748.8 1979.5V2056.5M750.8 1979.5V2056.5M752.8 1979.5V2056.5M763.9 1979.5V2056.5M777.3 1979.5V2056.5M779.5 1979.5V2056.5M789 1979.5V2056.5M804.2 1979.5V2056.5M816.5 1979.5V2056.5M818.5 1979.5V2056.5M824.2 1979.5V2056.5M825.2 1979.5V2056.5M838.2 1979.5V2056.5M865.2 1979.5V2056.5M868.1 1979.5V2056.5M883.9 1979.5V2056.5M894.9 1979.5V2056.5M896.7 1979.5V2056.5M905.2 1979.5V2056.5M911.9 1979.5V2056.5M913 1979.5V2056.5M915.8 1979.5V2056.5M922.9 1979.5V2056.5M926 1979.5V2056.5M950.4 1979.5V2056.5M990.2 1979.5V2056.5M991.5 1979.5V2056.5M1009.6 1979.5V2056.5M1013.1 1979.5V2056.5M1033.9 1979.5V2056.5M1038.8 1979.5V2056.5M1039.8 1979.5V2056.5M1049.3 1979.5V2056.5M1052.7 1979.5V2056.5M1054.3 1979.5V2056.5M1062.8 1979.5V2056.5M1073.1 1979.5V2056.5M1079.3 1979.5V2056.5M1093.2 1979.5V2056.5M1117 1979.5V2056.5M1127.8 1979.5V2056.5M1140.9 1979.5V2056.5M1148.6 1979.5V2056.5M1152.2 1979.5V2056.5M1154.5 1979.5V2056.5M1174 1979.5V2056.5M1185.6 1979.5V2056.5M1187.2 1979.5V2056.5M1213.5 1979.5V2056.5M1220.8 1979.5V2056.5M1238.9 1979.5V2056.5M1242.3 1979.5V2056.5M1244 1979.5V2056.5M1250 1979.5V2056.5M1253 1979.5V2056.5M1255.1 1979.5V2056.5M1257.2 1979.5V2056.5M1263.1 1979.5V2056.5M1278.7 1979.5V2056.5M1280.5 1979.5V2056.5M1292.6 1979.5V2056.5M1294.3 1979.5V2056.5M1302.8 1979.5V2056.5M1312.7 1979.5V2056.5M1334.4 1979.5V2056.5M1342.6 1979.5V2056.5M1344.4 1979.5V2056.5M1347.8 1979.5V2056.5M1358.1 1979.5V2056.5M1359.1 1979.5V2056.5M1367.3 1979.5V2056.5M1372 1979.5V2056.5M1390.8 1979.5V2056.5M1391.8 1979.5V2056.5M1396.6 1979.5V2056.5M1401.2 1979.5V2056.5M1402.8 1979.5V2056.5M1406.8 1979.5V2056.5M1408.2 1979.5V2056.5M1417.4 1979.5V2056.5M1431.7 1979.5V2056.5M1435.1 1979.5V2056.5M1451.1 1979.5V2056.5M1480.8 1979.5V2056.5M1496.7 1979.5V2056.5M1507.4 1979.5V2056.5M1516.5 1979.5V2056.5M1520 1979.5V2056.5M1521.8 1979.5V2056.5M1526.8 1979.5V2056.5M1527.8 1979.5V2056.5M1542.1 1979.5V2056.5M1547.3 1979.5V2056.5M1552.2 1979.5V2056.5M1554 1979.5V2056.5M1570.5 1979.5V2056.5M1587.8 1979.5V2056.5M1590.9 1979.5V2056.5M1595 1979.5V2056.5M1603.9 1979.5V2056.5M1609.8 1979.5V2056.5M1632.4 1979.5V2056.5M1639.7 1979.5V2056.5M1652 1979.5V2056.5M1653.8 1979.5V2056.5M1661.6 1979.5V2056.5M1663.6 1979.5V2056.5M1671.7 1979.5V2056.5M1686.6 1979.5V2056.5M1687.6 1979.5V2056.5M1711.9 1979.5V2056.5M1721.6 1979.5V2056.5M1728 1979.5V2056.5M1729 1979.5V2056.5M1732.2 1979.5V2056.5M1734 1979.5V2056.5M1737.3 1979.5V2056.5M1743.4 1979.5V2056.5M1749.6 1979.5V2056.5M1760 1979.5V2056.5M1788.5 1979.5V2056.5M1790.1 1979.5V2056.5M1796.5 1979.5V2056.5M1800.5 1979.5V2056.5M1802.5 1979.5V2056.5M1804 1979.5V2056.5M1808.2 1979.5V2056.5M1813.5 1979.5V2056.5M1823.5 1979.5V2056.5M1847 1979.5V2056.5M1853.6 1979.5V2056.5M1869.6 1979.5V2056.5M1871.2 1979.5V2056.5M1884.3 1979.5V2056.5M1889.4 1979.5V2056.5M1913.2 1979.5V2056.5M1914.8 1979.5V2056.5M1919.1 1979.5V2056.5M1926.3 1979.5V2056.5M1955.1 1979.5V2056.5M1956.7 1979.5V2056.5M1970.5 1979.5V2056.5M1989.3 1979.5V2056.5M1990.9 1979.5V2056.5M1995.4 1979.5V2056.5M2011.6 1979.5V2056.5M2026.3 1979.5V2056.5M2027.7 1979.5V2056.5M2046.2 1979.5V2056.5M2060.1 1979.5V2056.5M2070.6 1979.5V2056.5M2072 1979.5V2056.5M2082.9 1979.5V2056.5M2087.8 1979.5V2056.5M2092.9 1979.5V2056.5M2098.3 1979.5V2056.5M2106.4 1979.5V2056.5M2108 1979.5V2056.5M2110.9 1979.5V2056.5" stroke="#000" stroke-width="2.2" fill="none"/>
<path d="M308.8 1979.5V2056.5M368.7 1979.5V2056.5M380.6 1979.5V2056.5M705 1979.5V2056.5M730.3 1979.5V2056.5M1240.3 1979.5V2056.5" stroke="#000" stroke-opacity="0.45" stroke-width="2.2" fill="none"/>
<path d="M185 2018H200M185 1808.7H200M185 1599.4H200M185 1390.1H200M292.3 2088.7V2103.7M948.5 2088.7V2103.7M1604.7 2088.7V2103.7" stroke="#333333" stroke-width="5.9" fill="none"/>
<g font-family="'Liberation Sans', Arial, Helvetica, sans-serif" font-size="49" fill="#4D4D4D">
<text transform="translate(172.5 2036.3) scale(1 1.03)" text-anchor="end">0.0</text>
<text transform="translate(172.5 1827) scale(1 1.03)" text-anchor="end">0.1</text>
<text transform="translate(172.5 1617.7) scale(1 1.03)" text-anchor="end">0.2</text>
<text transform="translate(172.5 1408.4) scale(1 1.03)" text-anchor="end">0.3</text>
<text transform="translate(292.3 2151.9) scale(1 1.03)" text-anchor="middle">0</text>
<text transform="translate(948.5 2151.9) scale(1 1.03)" text-anchor="middle">5000</text>
<text transform="translate(1604.7 2151.9) scale(1 1.03)" text-anchor="middle">10000</text>
</g>
<g font-family="'Liberation Sans', Arial, Helvetica, sans-serif" fill="#000">
<text transform="translate(1213.2 1249.6) scale(1 1.03)" text-anchor="middle" font-size="73.6">Adrenal Gland (TAG group: p &lt; 0.01)</text>
<text transform="translate(1213.2 1342.6) scale(1 1.03)" text-anchor="middle" font-size="61.3">Empirical p = 0.253; NES = 1.063</text>
<text transform="translate(1213.2 2223) scale(1 1.03)" text-anchor="middle" font-size="61.3">Rank of gene by tissue z-score in ENCODE</text>
<text transform="translate(75.1 1738.5) rotate(-90) scale(1 1.03)" text-anchor="middle" font-size="61.3">enrichment score</text>
<text transform="translate(2318 1288.5) scale(1 1.03)" font-size="61.3">p</text>
<text transform="translate(2318 1883.1) scale(1 1.03)" font-size="61.3">p</text>
<circle cx="2349.5" cy="1356.6" r="4"/>
<text transform="translate(2411.5 1375.1) scale(1 1.03)" font-size="49">0</text>
<text transform="translate(2411.5 2249.9) scale(1 1.03)" font-size="49">0</text>
<circle cx="2349.5" cy="1420.6" r="7.5"/>
<text transform="translate(2411.5 1439.1) scale(1 1.03)" font-size="49">1</text>
<text transform="translate(2411.5 2191.5) scale(1 1.03)" font-size="49">1</text>
<circle cx="2349.5" cy="1484.7" r="10.9"/>
<text transform="translate(2411.5 1503.2) scale(1 1.03)" font-size="49">2</text>
<text transform="translate(2411.5 2133.1) scale(1 1.03)" font-size="49">2</text>
<circle cx="2349.5" cy="1548.7" r="14.3"/>
<text transform="translate(2411.5 1567.2) scale(1 1.03)" font-size="49">3</text>
<text transform="translate(2411.5 2074.8) scale(1 1.03)" font-size="49">3</text>
<circle cx="2349.5" cy="1612.8" r="17.7"/>
<text transform="translate(2411.5 1631.3) scale(1 1.03)" font-size="49">4</text>
<text transform="translate(2411.5 2016.4) scale(1 1.03)" font-size="49">4</text>
<circle cx="2349.5" cy="1676.8" r="21.1"/>
<text transform="translate(2411.5 1695.3) scale(1 1.03)" font-size="49">5</text>
<text transform="translate(2411.5 1958.1) scale(1 1.03)" font-size="49">5</text>
</g>
<rect x="2317.7" y="1919.9" width="64" height="319.6" fill="url(#cb)"/>
<path d="M2317.7 2231.4h12.8M2381.7 2231.4h-12.8M2317.7 2173h12.8M2381.7 2173h-12.8M2317.7 2114.6h12.8M2381.7 2114.6h-12.8M2317.7 2056.3h12.8M2381.7 2056.3h-12.8M2317.7 1997.9h12.8M2381.7 1997.9h-12.8M2317.7 1939.6h12.8M2381.7 1939.6h-12.8" stroke="#FFF" stroke-width="2.2" fill="none"/>
</g>
<g>
<path d="M227 3184.8H2226.4M227 3056.5H2226.4M227 2928.2H2226.4M227 2799.9H2226.4M227 2671.6H2226.4M318 2553.3V3255.3M965.4 2553.3V3255.3M1612.9 2553.3V3255.3" stroke="#EBEBEB" stroke-width="5.9" fill="none"/>
<path d="M227 3184.8H2226.4" stroke="#000" stroke-width="5.93" fill="none"/>
<circle cx="318" cy="3184.8" r="4" fill="#422BF2"/><circle cx="325.6" cy="3195.7" r="4" fill="#422BF2"/><circle cx="325.6" cy="3175.7" r="11.2" fill="#85FF00"/><circle cx="328.6" cy="3180" r="4" fill="#422BF2"/><circle cx="328.6" cy="3160" r="11.4" fill="#8FFF00"/><circle cx="337.7" cy="3173.1" r="4" fill="#422BF2"/><circle cx="337.7" cy="3147" r="13.7" fill="#D2FF00"/><circle cx="343.4" cy="3155.2" r="4" fill="#422BF2"/><circle cx="343.4" cy="3132" r="20.8" fill="#FF5300"/><circle cx="350.5" cy="3142.2" r="4" fill="#422BF2"/><circle cx="350.5" cy="3100.1" r="11.2" fill="#86FF00"/><circle cx="355.2" cy="3106.8" r="4" fill="#422BF2"/><circle cx="355.2" cy="3084" r="15.8" fill="#FFF600"/><circle cx="356.2" cy="3085.4" r="4" fill="#422BF2"/><circle cx="356.2" cy="3062.5" r="19.2" fill="#FF8E00"/><circle cx="367.4" cy="3078.6" r="4" fill="#422BF2"/><circle cx="367.4" cy="3057" r="11.3" fill="#8AFF00"/><circle cx="378.9" cy="3073.5" r="4" fill="#422BF2"/><circle cx="378.9" cy="3049.7" r="11.5" fill="#92FF00"/><circle cx="381.8" cy="3053.9" r="4" fill="#422BF2"/><circle cx="381.8" cy="3011.5" r="10.6" fill="#71FF00"/><circle cx="394.6" cy="3029.9" r="4" fill="#422BF2"/><circle cx="394.6" cy="3009.5" r="11.3" fill="#8AFF00"/><circle cx="395.6" cy="3010.9" r="4" fill="#422BF2"/><circle cx="395.6" cy="2990.5" r="11.7" fill="#96FF00"/><circle cx="403.4" cy="3001.7" r="4" fill="#422BF2"/><circle cx="403.4" cy="2980" r="12.4" fill="#AEFF00"/><circle cx="404.4" cy="2981.5" r="4" fill="#422BF2"/><circle cx="404.4" cy="2959.8" r="10.5" fill="#6BFF00"/><circle cx="413.1" cy="2972.3" r="4" fill="#422BF2"/><circle cx="413.1" cy="2952.4" r="10.8" fill="#79FF00"/><circle cx="416.5" cy="2957.3" r="4" fill="#422BF2"/><circle cx="416.5" cy="2935.8" r="10.5" fill="#6AFF00"/><circle cx="418" cy="2937.9" r="4" fill="#422BF2"/><circle cx="418" cy="2916.4" r="12.5" fill="#B1FF00"/><circle cx="419.5" cy="2918.5" r="4" fill="#422BF2"/><circle cx="419.5" cy="2897" r="11.9" fill="#9EFF00"/><circle cx="433.2" cy="2916.7" r="4" fill="#422BF2"/><circle cx="433.2" cy="2894.8" r="12.4" fill="#AEFF00"/><circle cx="452.4" cy="2922.3" r="4" fill="#422BF2"/><circle cx="452.4" cy="2896.8" r="10.4" fill="#67FF00"/><circle cx="457.4" cy="2904" r="4" fill="#422BF2"/><circle cx="457.4" cy="2878.4" r="13.8" fill="#D4FF00"/><circle cx="459.6" cy="2881.6" r="4" fill="#422BF2"/><circle cx="459.6" cy="2856" r="13.8" fill="#D4FF00"/><circle cx="464.3" cy="2862.8" r="4" fill="#422BF2"/><circle cx="464.3" cy="2837.2" r="13.4" fill="#CBFF00"/><circle cx="479" cy="2858.3" r="4" fill="#422BF2"/><circle cx="479" cy="2838.5" r="11.7" fill="#99FF00"/><circle cx="493.7" cy="2859.6" r="4" fill="#422BF2"/><circle cx="493.7" cy="2839.7" r="11.6" fill="#95FF00"/><circle cx="499.4" cy="2847.9" r="4" fill="#422BF2"/><circle cx="499.4" cy="2827.4" r="14.8" fill="#EEFF00"/><circle cx="506.3" cy="2837.3" r="4" fill="#422BF2"/><circle cx="506.3" cy="2807.8" r="10.6" fill="#6FFF00"/><circle cx="508.7" cy="2811.3" r="4" fill="#422BF2"/><circle cx="508.7" cy="2781.8" r="10.4" fill="#66FF00"/><circle cx="519.6" cy="2797.4" r="4" fill="#422BF2"/><circle cx="519.6" cy="2776.6" r="11.3" fill="#8CFF00"/><circle cx="520.6" cy="2778" r="4" fill="#422BF2"/><circle cx="520.6" cy="2757.2" r="10.4" fill="#68FF00"/><circle cx="525.1" cy="2763.7" r="4" fill="#422BF2"/><circle cx="525.1" cy="2743.6" r="20.8" fill="#FF5300"/><circle cx="561.2" cy="2795.4" r="4" fill="#422BF2"/><circle cx="561.2" cy="2776.9" r="10.6" fill="#71FF00"/><circle cx="565.5" cy="2783.1" r="4" fill="#422BF2"/><circle cx="565.5" cy="2764" r="10.7" fill="#74FF00"/><circle cx="567" cy="2766.1" r="4" fill="#422BF2"/><circle cx="567" cy="2747" r="10.4" fill="#66FF00"/><circle cx="568.5" cy="2749.2" r="4" fill="#422BF2"/><circle cx="568.5" cy="2730.1" r="13.8" fill="#D4FF00"/><circle cx="577.7" cy="2743.3" r="4" fill="#422BF2"/><circle cx="577.7" cy="2723.9" r="11.2" fill="#86FF00"/><circle cx="582" cy="2730.1" r="4" fill="#422BF2"/><circle cx="582" cy="2710.4" r="20.6" fill="#FF5B00"/><circle cx="585" cy="2714.7" r="4" fill="#422BF2"/><circle cx="585" cy="2694.4" r="11.1" fill="#84FF00"/><circle cx="610.4" cy="2730.8" r="4" fill="#422BF2"/><circle cx="610.4" cy="2711.6" r="12.8" fill="#B8FF00"/><circle cx="616.7" cy="2720.6" r="4" fill="#422BF2"/><circle cx="616.7" cy="2703" r="11.3" fill="#8BFF00"/><circle cx="634.7" cy="2728.8" r="4" fill="#422BF2"/><circle cx="634.7" cy="2709.2" r="11.7" fill="#98FF00"/><circle cx="655" cy="2738.3" r="4" fill="#422BF2"/><circle cx="655" cy="2722.4" r="11.3" fill="#89FF00"/><circle cx="656" cy="2723.8" r="4" fill="#422BF2"/><circle cx="656" cy="2707.9" r="14.1" fill="#DCFF00"/><circle cx="659" cy="2712.2" r="4" fill="#422BF2"/><circle cx="659" cy="2690.7" r="11.8" fill="#9AFF00"/><circle cx="707.5" cy="2760.3" r="4" fill="#422BF2"/><circle cx="707.5" cy="2741.2" r="14.8" fill="#EEFF00"/><circle cx="737" cy="2783.5" r="4" fill="#422BF2"/><circle cx="737" cy="2766.9" r="11.2" fill="#85FF00"/><circle cx="739.3" cy="2770.2" r="4" fill="#422BF2"/><circle cx="739.3" cy="2753.5" r="18.4" fill="#FFAA00"/><circle cx="746.8" cy="2764.3" r="4" fill="#422BF2"/><circle cx="746.8" cy="2746.6" r="10.8" fill="#77FF00"/><circle cx="749.3" cy="2750.2" r="4" fill="#422BF2"/><circle cx="749.3" cy="2732.6" r="14.8" fill="#EEFF00"/><circle cx="765.5" cy="2755.8" r="4" fill="#422BF2"/><circle cx="765.5" cy="2732.8" r="13.8" fill="#D4FF00"/><circle cx="767.8" cy="2736.1" r="4" fill="#422BF2"/><circle cx="767.8" cy="2713.1" r="13.8" fill="#D4FF00"/><circle cx="770" cy="2716.2" r="4" fill="#422BF2"/><circle cx="770" cy="2693.2" r="12.7" fill="#B8FF00"/><circle cx="777.5" cy="2704" r="4" fill="#422BF2"/><circle cx="777.5" cy="2677.1" r="12" fill="#A0FF00"/><circle cx="779.5" cy="2680" r="4" fill="#422BF2"/><circle cx="779.5" cy="2653.1" r="10.9" fill="#7AFF00"/><circle cx="781.5" cy="2656" r="4" fill="#422BF2"/><circle cx="781.5" cy="2629.1" r="10.7" fill="#74FF00"/><circle cx="787.8" cy="2638.1" r="4" fill="#422BF2"/><circle cx="787.8" cy="2621.5" r="10.8" fill="#78FF00"/><circle cx="789.2" cy="2623.5" r="4" fill="#422BF2"/><circle cx="789.2" cy="2606.9" r="10.5" fill="#69FF00"/><circle cx="794.6" cy="2614.6" r="4" fill="#422BF2"/><circle cx="794.6" cy="2593.4" r="12.3" fill="#A9FF00"/><circle cx="800.5" cy="2601.9" r="4" fill="#422BF2"/><circle cx="800.5" cy="2588.5" r="11" fill="#80FF00"/><circle cx="809.2" cy="2601" r="4" fill="#422BF2"/><circle cx="809.2" cy="2585.3" r="12.4" fill="#AEFF00"/><circle cx="850.8" cy="2645" r="4" fill="#422BF2"/><circle cx="850.8" cy="2629" r="12.8" fill="#B9FF00"/><circle cx="858" cy="2639.3" r="4" fill="#422BF2"/><circle cx="858" cy="2624" r="11" fill="#7FFF00"/><circle cx="878.8" cy="2653.8" r="4" fill="#422BF2"/><circle cx="878.8" cy="2638.8" r="13.8" fill="#D4FF00"/><circle cx="886.7" cy="2650.1" r="4" fill="#422BF2"/><circle cx="886.7" cy="2633.9" r="12.8" fill="#B9FF00"/><circle cx="892.2" cy="2641.8" r="4" fill="#422BF2"/><circle cx="892.2" cy="2626.5" r="21.7" fill="#FF0000"/><circle cx="894.2" cy="2629.4" r="4" fill="#422BF2"/><circle cx="894.2" cy="2598.2" r="10.4" fill="#65FF00"/><circle cx="907.5" cy="2617.3" r="4" fill="#422BF2"/><circle cx="907.5" cy="2603.1" r="16.2" fill="#FFEC00"/><circle cx="913.2" cy="2611.3" r="4" fill="#422BF2"/><circle cx="913.2" cy="2595.7" r="10.7" fill="#72FF00"/><circle cx="923.9" cy="2611" r="4" fill="#422BF2"/><circle cx="923.9" cy="2595.7" r="13.8" fill="#D4FF00"/><circle cx="978.6" cy="2674.2" r="4" fill="#422BF2"/><circle cx="978.6" cy="2663.4" r="13.5" fill="#CCFF00"/><circle cx="994" cy="2685.5" r="4" fill="#422BF2"/><circle cx="994" cy="2668.4" r="19.7" fill="#FF7C00"/><circle cx="996.3" cy="2671.7" r="4" fill="#422BF2"/><circle cx="996.3" cy="2659.8" r="11.2" fill="#86FF00"/><circle cx="998.5" cy="2663" r="4" fill="#422BF2"/><circle cx="998.5" cy="2651.1" r="13.8" fill="#D4FF00"/><circle cx="1008.3" cy="2665.2" r="4" fill="#422BF2"/><circle cx="1008.3" cy="2644.5" r="11" fill="#80FF00"/><circle cx="1010.5" cy="2647.7" r="4" fill="#422BF2"/><circle cx="1010.5" cy="2627.1" r="10.5" fill="#69FF00"/><circle cx="1012.5" cy="2629.9" r="4" fill="#422BF2"/><circle cx="1012.5" cy="2609.3" r="11.7" fill="#96FF00"/><circle cx="1021.4" cy="2622.1" r="4" fill="#422BF2"/><circle cx="1021.4" cy="2609.3" r="12.3" fill="#ABFF00"/><circle cx="1042.3" cy="2639.3" r="4" fill="#422BF2"/><circle cx="1042.3" cy="2626.5" r="14.5" fill="#E5FF00"/><circle cx="1050.3" cy="2638" r="4" fill="#422BF2"/><circle cx="1050.3" cy="2624.3" r="10.8" fill="#76FF00"/><circle cx="1051.9" cy="2626.6" r="4" fill="#422BF2"/><circle cx="1051.9" cy="2613" r="10.5" fill="#6AFF00"/><circle cx="1055.9" cy="2618.7" r="4" fill="#422BF2"/><circle cx="1055.9" cy="2606.8" r="10.9" fill="#7BFF00"/><circle cx="1060.5" cy="2613.4" r="4" fill="#422BF2"/><circle cx="1060.5" cy="2598.9" r="13.8" fill="#D4FF00"/><circle cx="1077" cy="2622.6" r="4" fill="#422BF2"/><circle cx="1077" cy="2610.5" r="12.2" fill="#A8FF00"/><circle cx="1117.3" cy="2668.3" r="4" fill="#422BF2"/><circle cx="1117.3" cy="2654.8" r="10.5" fill="#6CFF00"/><circle cx="1125" cy="2665.8" r="4" fill="#422BF2"/><circle cx="1125" cy="2654.8" r="10.7" fill="#75FF00"/><circle cx="1130.4" cy="2662.5" r="4" fill="#422BF2"/><circle cx="1130.4" cy="2649.9" r="10.5" fill="#6BFF00"/><circle cx="1140.8" cy="2664.8" r="4" fill="#422BF2"/><circle cx="1140.8" cy="2652.4" r="10.5" fill="#68FF00"/><circle cx="1145.5" cy="2659.1" r="4" fill="#422BF2"/><circle cx="1145.5" cy="2646.2" r="12.4" fill="#AFFF00"/><circle cx="1157.8" cy="2663.8" r="4" fill="#422BF2"/><circle cx="1157.8" cy="2651" r="15.1" fill="#F6FF00"/><circle cx="1166.1" cy="2662.9" r="4" fill="#422BF2"/><circle cx="1166.1" cy="2650.7" r="10.6" fill="#70FF00"/><circle cx="1167.1" cy="2652.2" r="4" fill="#422BF2"/><circle cx="1167.1" cy="2640" r="11.4" fill="#8FFF00"/><circle cx="1175.9" cy="2652.6" r="4" fill="#422BF2"/><circle cx="1175.9" cy="2641.3" r="11.1" fill="#84FF00"/><circle cx="1187" cy="2657.2" r="4" fill="#422BF2"/><circle cx="1187" cy="2645" r="10.6" fill="#71FF00"/><circle cx="1190.2" cy="2649.6" r="4" fill="#422BF2"/><circle cx="1190.2" cy="2637.3" r="12.1" fill="#A4FF00"/><circle cx="1192" cy="2639.9" r="4" fill="#422BF2"/><circle cx="1192" cy="2627.7" r="10.6" fill="#6DFF00"/><circle cx="1208.5" cy="2651.4" r="4" fill="#422BF2"/><circle cx="1208.5" cy="2640.6" r="11.7" fill="#98FF00"/><circle cx="1210.5" cy="2643.5" r="4" fill="#422BF2"/><circle cx="1210.5" cy="2632.7" r="10.5" fill="#6CFF00"/><circle cx="1220.6" cy="2647.2" r="4" fill="#422BF2"/><circle cx="1220.6" cy="2635.1" r="11.1" fill="#82FF00"/><circle cx="1226.3" cy="2643.3" r="4" fill="#422BF2"/><circle cx="1226.3" cy="2632.7" r="10.7" fill="#72FF00"/><circle cx="1233.5" cy="2643" r="4" fill="#422BF2"/><circle cx="1233.5" cy="2631.9" r="10.8" fill="#76FF00"/><circle cx="1235.5" cy="2634.8" r="4" fill="#422BF2"/><circle cx="1235.5" cy="2623.7" r="13.8" fill="#D4FF00"/><circle cx="1237.5" cy="2626.5" r="4" fill="#422BF2"/><circle cx="1237.5" cy="2615.4" r="12.5" fill="#B0FF00"/><circle cx="1239.5" cy="2618.3" r="4" fill="#422BF2"/><circle cx="1239.5" cy="2607.2" r="10.8" fill="#79FF00"/><circle cx="1241" cy="2609.3" r="4" fill="#422BF2"/><circle cx="1241" cy="2598.2" r="13.2" fill="#C3FF00"/><circle cx="1249.4" cy="2610.2" r="4" fill="#422BF2"/><circle cx="1249.4" cy="2598.2" r="10.7" fill="#72FF00"/><circle cx="1260.1" cy="2613.5" r="4" fill="#422BF2"/><circle cx="1260.1" cy="2602.1" r="15.8" fill="#FFF600"/><circle cx="1261.1" cy="2603.5" r="4" fill="#422BF2"/><circle cx="1261.1" cy="2592" r="11" fill="#80FF00"/><circle cx="1267.8" cy="2601.6" r="4" fill="#422BF2"/><circle cx="1267.8" cy="2592" r="12.9" fill="#BBFF00"/><circle cx="1280.2" cy="2609.8" r="4" fill="#422BF2"/><circle cx="1280.2" cy="2599.1" r="11.7" fill="#98FF00"/><circle cx="1282.3" cy="2602.2" r="4" fill="#422BF2"/><circle cx="1282.3" cy="2591.5" r="16.2" fill="#FFEC00"/><circle cx="1296.5" cy="2611.9" r="4" fill="#422BF2"/><circle cx="1296.5" cy="2601.9" r="10.5" fill="#6BFF00"/><circle cx="1305.9" cy="2615.4" r="4" fill="#422BF2"/><circle cx="1305.9" cy="2605.6" r="13.8" fill="#D4FF00"/><circle cx="1312.6" cy="2615.2" r="4" fill="#422BF2"/><circle cx="1312.6" cy="2604.3" r="10.7" fill="#72FF00"/><circle cx="1316.6" cy="2610" r="4" fill="#422BF2"/><circle cx="1316.6" cy="2599.7" r="10.8" fill="#76FF00"/><circle cx="1318.4" cy="2602.3" r="4" fill="#422BF2"/><circle cx="1318.4" cy="2592" r="12.3" fill="#AAFF00"/><circle cx="1330.5" cy="2609.4" r="4" fill="#422BF2"/><circle cx="1330.5" cy="2600.6" r="10.9" fill="#7BFF00"/><circle cx="1340.5" cy="2614.9" r="4" fill="#422BF2"/><circle cx="1340.5" cy="2604.3" r="10.8" fill="#78FF00"/><circle cx="1349.5" cy="2617.2" r="4" fill="#422BF2"/><circle cx="1349.5" cy="2608.4" r="10.5" fill="#69FF00"/><circle cx="1352" cy="2612" r="4" fill="#422BF2"/><circle cx="1352" cy="2603.2" r="10.5" fill="#6AFF00"/><circle cx="1354.5" cy="2606.8" r="4" fill="#422BF2"/><circle cx="1354.5" cy="2598" r="11.5" fill="#91FF00"/><circle cx="1360.3" cy="2606.3" r="4" fill="#422BF2"/><circle cx="1360.3" cy="2597.4" r="10.7" fill="#75FF00"/><circle cx="1361.3" cy="2598.9" r="4" fill="#422BF2"/><circle cx="1361.3" cy="2590" r="11.6" fill="#93FF00"/><circle cx="1364.2" cy="2594.2" r="4" fill="#422BF2"/><circle cx="1364.2" cy="2587" r="11" fill="#7EFF00"/><circle cx="1368.1" cy="2592.6" r="4" fill="#422BF2"/><circle cx="1368.1" cy="2585.4" r="14.1" fill="#DCFF00"/><circle cx="1380.1" cy="2602.6" r="4" fill="#422BF2"/><circle cx="1380.1" cy="2597" r="11.2" fill="#85FF00"/><circle cx="1385.9" cy="2605.3" r="4" fill="#422BF2"/><circle cx="1385.9" cy="2594.5" r="13.8" fill="#D4FF00"/><circle cx="1390.1" cy="2600.5" r="4" fill="#422BF2"/><circle cx="1390.1" cy="2589.6" r="11.2" fill="#88FF00"/><circle cx="1402.1" cy="2606.8" r="4" fill="#422BF2"/><circle cx="1402.1" cy="2598.2" r="11.5" fill="#90FF00"/><circle cx="1410.1" cy="2609.7" r="4" fill="#422BF2"/><circle cx="1410.1" cy="2601.9" r="13" fill="#BEFF00"/><circle cx="1424.3" cy="2622.3" r="4" fill="#422BF2"/><circle cx="1424.3" cy="2613.8" r="10.6" fill="#70FF00"/><circle cx="1426.2" cy="2616.5" r="4" fill="#422BF2"/><circle cx="1426.2" cy="2608" r="10.6" fill="#6EFF00"/><circle cx="1434.7" cy="2620.2" r="4" fill="#422BF2"/><circle cx="1434.7" cy="2609.3" r="13.5" fill="#CBFF00"/><circle cx="1442.4" cy="2620.3" r="4" fill="#422BF2"/><circle cx="1442.4" cy="2609" r="17.7" fill="#FFBF00"/><circle cx="1445" cy="2612.7" r="4" fill="#422BF2"/><circle cx="1445" cy="2601.4" r="12.6" fill="#B3FF00"/><circle cx="1447.5" cy="2605" r="4" fill="#422BF2"/><circle cx="1447.5" cy="2593.7" r="10.7" fill="#75FF00"/><circle cx="1450" cy="2597.2" r="4" fill="#422BF2"/><circle cx="1450" cy="2585.9" r="10.6" fill="#71FF00"/><circle cx="1462.1" cy="2603.3" r="4" fill="#422BF2"/><circle cx="1462.1" cy="2597" r="12.1" fill="#A5FF00"/><circle cx="1468.5" cy="2606.2" r="4" fill="#422BF2"/><circle cx="1468.5" cy="2597.9" r="13.8" fill="#D4FF00"/><circle cx="1470.2" cy="2600.3" r="4" fill="#422BF2"/><circle cx="1470.2" cy="2592" r="10.7" fill="#71FF00"/><circle cx="1482.1" cy="2609.1" r="4" fill="#422BF2"/><circle cx="1482.1" cy="2600.6" r="13.8" fill="#D4FF00"/><circle cx="1494.5" cy="2618.4" r="4" fill="#422BF2"/><circle cx="1494.5" cy="2610.5" r="13.1" fill="#C3FF00"/><circle cx="1509" cy="2631.3" r="4" fill="#422BF2"/><circle cx="1509" cy="2623.9" r="16.5" fill="#FFE200"/><circle cx="1510" cy="2625.3" r="4" fill="#422BF2"/><circle cx="1510" cy="2617.9" r="11.6" fill="#93FF00"/><circle cx="1514.6" cy="2624.5" r="4" fill="#422BF2"/><circle cx="1514.6" cy="2616.9" r="11.1" fill="#82FF00"/><circle cx="1518.9" cy="2623" r="4" fill="#422BF2"/><circle cx="1518.9" cy="2615.4" r="10.5" fill="#6BFF00"/><circle cx="1527.7" cy="2628" r="4" fill="#422BF2"/><circle cx="1527.7" cy="2620.4" r="10.4" fill="#67FF00"/><circle cx="1531.3" cy="2625.5" r="4" fill="#422BF2"/><circle cx="1531.3" cy="2617.9" r="13.8" fill="#D4FF00"/><circle cx="1537.4" cy="2626.7" r="4" fill="#422BF2"/><circle cx="1537.4" cy="2617.5" r="10.7" fill="#74FF00"/><circle cx="1558.5" cy="2647.8" r="4" fill="#422BF2"/><circle cx="1558.5" cy="2640.4" r="12" fill="#A0FF00"/><circle cx="1566.8" cy="2652.4" r="4" fill="#422BF2"/><circle cx="1566.8" cy="2645" r="10.8" fill="#76FF00"/><circle cx="1568.6" cy="2647.6" r="4" fill="#422BF2"/><circle cx="1568.6" cy="2640.3" r="12.6" fill="#B4FF00"/><circle cx="1576.5" cy="2651.6" r="4" fill="#422BF2"/><circle cx="1576.5" cy="2646.5" r="11.5" fill="#93FF00"/><circle cx="1581.1" cy="2653.1" r="4" fill="#422BF2"/><circle cx="1581.1" cy="2645.9" r="10.8" fill="#78FF00"/><circle cx="1587" cy="2654.3" r="4" fill="#422BF2"/><circle cx="1587" cy="2647.1" r="10.6" fill="#70FF00"/><circle cx="1591.6" cy="2653.7" r="4" fill="#422BF2"/><circle cx="1591.6" cy="2646.5" r="12" fill="#A2FF00"/><circle cx="1604.4" cy="2664.9" r="4" fill="#422BF2"/><circle cx="1604.4" cy="2658.8" r="10.5" fill="#69FF00"/><circle cx="1611.6" cy="2669.1" r="4" fill="#422BF2"/><circle cx="1611.6" cy="2662.5" r="10.7" fill="#74FF00"/><circle cx="1614" cy="2666" r="4" fill="#422BF2"/><circle cx="1614" cy="2659.4" r="21.5" fill="#FF2B00"/><circle cx="1618.2" cy="2665.4" r="4" fill="#422BF2"/><circle cx="1618.2" cy="2658.8" r="11.4" fill="#8FFF00"/><circle cx="1624.7" cy="2668.1" r="4" fill="#422BF2"/><circle cx="1624.7" cy="2661.3" r="13.6" fill="#CFFF00"/><circle cx="1641.3" cy="2685.1" r="4" fill="#422BF2"/><circle cx="1641.3" cy="2677.3" r="12.8" fill="#BAFF00"/><circle cx="1658.1" cy="2701.4" r="4" fill="#422BF2"/><circle cx="1658.1" cy="2698" r="11.6" fill="#95FF00"/><circle cx="1666.1" cy="2709.5" r="4" fill="#422BF2"/><circle cx="1666.1" cy="2703.8" r="10.8" fill="#77FF00"/><circle cx="1667.9" cy="2706.4" r="4" fill="#422BF2"/><circle cx="1667.9" cy="2700.7" r="13.6" fill="#CFFF00"/><circle cx="1671.6" cy="2706" r="4" fill="#422BF2"/><circle cx="1671.6" cy="2702" r="10.7" fill="#72FF00"/><circle cx="1681.3" cy="2715.9" r="4" fill="#422BF2"/><circle cx="1681.3" cy="2695.8" r="10.4" fill="#66FF00"/><circle cx="1686" cy="2702.5" r="4" fill="#422BF2"/><circle cx="1686" cy="2698" r="10.8" fill="#76FF00"/><circle cx="1695.5" cy="2711.6" r="4" fill="#422BF2"/><circle cx="1695.5" cy="2703.4" r="11.1" fill="#84FF00"/><circle cx="1697.6" cy="2706.4" r="4" fill="#422BF2"/><circle cx="1697.6" cy="2698.2" r="21.5" fill="#FF2B00"/><circle cx="1699.7" cy="2701.2" r="4" fill="#422BF2"/><circle cx="1699.7" cy="2696.2" r="10.5" fill="#68FF00"/><circle cx="1703.3" cy="2701.4" r="4" fill="#422BF2"/><circle cx="1703.3" cy="2696.4" r="10.6" fill="#70FF00"/><circle cx="1705.2" cy="2699.1" r="4" fill="#422BF2"/><circle cx="1705.2" cy="2694.1" r="11" fill="#7EFF00"/><circle cx="1708.3" cy="2698.5" r="4" fill="#422BF2"/><circle cx="1708.3" cy="2693.5" r="11.5" fill="#90FF00"/><circle cx="1713.2" cy="2700.5" r="4" fill="#422BF2"/><circle cx="1713.2" cy="2695.5" r="10.6" fill="#6DFF00"/><circle cx="1715.5" cy="2698.8" r="4" fill="#422BF2"/><circle cx="1715.5" cy="2693.8" r="11" fill="#7DFF00"/><circle cx="1717.8" cy="2697.1" r="4" fill="#422BF2"/><circle cx="1717.8" cy="2692.1" r="13.2" fill="#C5FF00"/><circle cx="1751.5" cy="2740.4" r="4" fill="#422BF2"/><circle cx="1751.5" cy="2735.2" r="13.8" fill="#D4FF00"/><circle cx="1766" cy="2756" r="4" fill="#422BF2"/><circle cx="1766" cy="2750.6" r="11.8" fill="#9AFF00"/><circle cx="1768.3" cy="2753.9" r="4" fill="#422BF2"/><circle cx="1768.3" cy="2748.4" r="11.9" fill="#9EFF00"/><circle cx="1770.6" cy="2751.7" r="4" fill="#422BF2"/><circle cx="1770.6" cy="2746.3" r="11.5" fill="#91FF00"/><circle cx="1781.6" cy="2762.1" r="4" fill="#422BF2"/><circle cx="1781.6" cy="2756.1" r="10.6" fill="#6EFF00"/><circle cx="1795" cy="2775.3" r="4" fill="#422BF2"/><circle cx="1795" cy="2771.5" r="14.8" fill="#EEFF00"/><circle cx="1797.3" cy="2774.8" r="4" fill="#422BF2"/><circle cx="1797.3" cy="2770.9" r="11.1" fill="#81FF00"/><circle cx="1823.9" cy="2809.1" r="4" fill="#422BF2"/><circle cx="1823.9" cy="2806.6" r="10.7" fill="#74FF00"/><circle cx="1831.6" cy="2817.6" r="4" fill="#422BF2"/><circle cx="1831.6" cy="2814" r="10.4" fill="#67FF00"/><circle cx="1846.5" cy="2835.4" r="4" fill="#422BF2"/><circle cx="1846.5" cy="2832.5" r="10.4" fill="#66FF00"/><circle cx="1851.2" cy="2839.2" r="4" fill="#422BF2"/><circle cx="1851.2" cy="2834.8" r="13.5" fill="#CCFF00"/><circle cx="1853.5" cy="2838.1" r="4" fill="#422BF2"/><circle cx="1853.5" cy="2833.7" r="11.9" fill="#9FFF00"/><circle cx="1871.6" cy="2859.7" r="4" fill="#422BF2"/><circle cx="1871.6" cy="2858.3" r="13.8" fill="#D4FF00"/><circle cx="1875.4" cy="2863.8" r="4" fill="#422BF2"/><circle cx="1875.4" cy="2859.9" r="10.4" fill="#66FF00"/><circle cx="1876.4" cy="2861.3" r="4" fill="#422BF2"/><circle cx="1876.4" cy="2857.5" r="11.7" fill="#97FF00"/><circle cx="1884.5" cy="2869.1" r="4" fill="#422BF2"/><circle cx="1884.5" cy="2865.3" r="11.2" fill="#87FF00"/><circle cx="1886.5" cy="2868.1" r="4" fill="#422BF2"/><circle cx="1886.5" cy="2864.3" r="12.1" fill="#A4FF00"/><circle cx="1888.5" cy="2867.1" r="4" fill="#422BF2"/><circle cx="1888.5" cy="2863.3" r="10.9" fill="#7AFF00"/><circle cx="1955.5" cy="2959.4" r="4" fill="#422BF2"/><circle cx="1955.5" cy="2957.5" r="14.1" fill="#DCFF00"/><circle cx="1959.7" cy="2963.5" r="4" fill="#422BF2"/><circle cx="1959.7" cy="2960.5" r="10.4" fill="#65FF00"/><circle cx="1972.8" cy="2979.3" r="4" fill="#422BF2"/><circle cx="1972.8" cy="2976.7" r="13.8" fill="#D4FF00"/><circle cx="1980.1" cy="2987.2" r="4" fill="#422BF2"/><circle cx="1980.1" cy="2986" r="10.5" fill="#69FF00"/><circle cx="1988.6" cy="2998.2" r="4" fill="#422BF2"/><circle cx="1988.6" cy="2996.2" r="11.4" fill="#8DFF00"/><circle cx="1989.8" cy="2998" r="4" fill="#422BF2"/><circle cx="1989.8" cy="2996" r="12.1" fill="#A4FF00"/><circle cx="2011" cy="3026.4" r="4" fill="#422BF2"/><circle cx="2011" cy="3025.7" r="13.4" fill="#C8FF00"/><circle cx="2012.8" cy="3028.2" r="4" fill="#422BF2"/><circle cx="2012.8" cy="3027.5" r="12.1" fill="#A5FF00"/><circle cx="2017.4" cy="3034.1" r="4" fill="#422BF2"/><circle cx="2017.4" cy="3031.6" r="11.9" fill="#A0FF00"/><circle cx="2020.8" cy="3036.5" r="4" fill="#422BF2"/><circle cx="2020.8" cy="3034" r="13.3" fill="#C6FF00"/><circle cx="2029.3" cy="3046.2" r="4" fill="#422BF2"/><circle cx="2029.3" cy="3044.8" r="12.4" fill="#AEFF00"/><circle cx="2035" cy="3052.9" r="4" fill="#422BF2"/><circle cx="2035" cy="3051.5" r="13.6" fill="#CEFF00"/><circle cx="2048" cy="3070.1" r="4" fill="#422BF2"/><circle cx="2048" cy="3069.5" r="10.9" fill="#7DFF00"/><circle cx="2057" cy="3082.4" r="4" fill="#422BF2"/><circle cx="2057" cy="3081.6" r="11.9" fill="#9DFF00"/><circle cx="2059.3" cy="3084.9" r="4" fill="#422BF2"/><circle cx="2059.3" cy="3084" r="12.1" fill="#A4FF00"/><circle cx="2079.3" cy="3112.7" r="4" fill="#422BF2"/><circle cx="2079.3" cy="3110" r="12.9" fill="#BDFF00"/><circle cx="2086.2" cy="3119.9" r="4" fill="#422BF2"/><circle cx="2086.2" cy="3118.8" r="13.4" fill="#C9FF00"/><circle cx="2087.9" cy="3121.3" r="4" fill="#422BF2"/><circle cx="2087.9" cy="3120.2" r="13" fill="#BFFF00"/><circle cx="2090.1" cy="3123.3" r="4" fill="#422BF2"/><circle cx="2090.1" cy="3122.3" r="15.8" fill="#FFF600"/><circle cx="2093.1" cy="3126.6" r="4" fill="#422BF2"/><circle cx="2093.1" cy="3125.5" r="15.1" fill="#F6FF00"/><circle cx="2097.8" cy="3132.2" r="4" fill="#422BF2"/><circle cx="2097.8" cy="3131.9" r="11.1" fill="#82FF00"/><circle cx="2101.1" cy="3136.7" r="4" fill="#422BF2"/><circle cx="2101.1" cy="3136.4" r="12.4" fill="#ADFF00"/><circle cx="2102.1" cy="3137.8" r="4" fill="#422BF2"/><circle cx="2102.1" cy="3137.5" r="13" fill="#BDFF00"/><circle cx="2109" cy="3147.4" r="4" fill="#422BF2"/><circle cx="2109" cy="3147" r="11.5" fill="#90FF00"/><circle cx="2118.5" cy="3160.6" r="4" fill="#422BF2"/><circle cx="2118.5" cy="3158" r="11.6" fill="#96FF00"/><circle cx="2125.8" cy="3168.5" r="4" fill="#422BF2"/><circle cx="2125.8" cy="3168.2" r="11" fill="#7FFF00"/><circle cx="2127.6" cy="3170.8" r="4" fill="#422BF2"/><circle cx="2127.6" cy="3170.5" r="12.8" fill="#B8FF00"/><circle cx="2134.5" cy="3184.8" r="4" fill="#422BF2"/>
<path d="M227 2585.3H2226.4M227 3197.8H2226.4" stroke="#FF0000" stroke-width="5.93" stroke-dasharray="23.71 23.71" fill="none"/>
<path d="M318 3184.8L325.6 3195.7L325.7 3175.7L328.6 3180L328.7 3160L337.7 3173.1L337.8 3147L343.4 3155.2L343.5 3132L350.5 3142.2L350.6 3100.1L355.2 3106.8L355.3 3084L356.2 3085.4L356.3 3062.5L367.4 3078.6L367.5 3057L378.9 3073.5L379 3049.7L381.8 3053.9L381.9 3011.5L394.6 3029.9L394.7 3009.5L395.6 3010.9L395.7 2990.5L403.4 3001.7L403.5 2980L404.4 2981.5L404.5 2959.8L413.1 2972.3L413.2 2952.4L416.5 2957.3L416.6 2935.8L418 2937.9L418.1 2916.4L419.5 2918.5L419.6 2897L433.2 2916.7L433.3 2894.8L452.4 2922.3L452.5 2896.8L457.4 2904L457.5 2878.4L459.6 2881.6L459.7 2856L464.3 2862.8L464.4 2837.2L479 2858.3L479.1 2838.5L493.7 2859.6L493.8 2839.7L499.4 2847.9L499.5 2827.4L506.3 2837.3L506.4 2807.8L508.7 2811.3L508.8 2781.8L519.6 2797.4L519.7 2776.6L520.6 2778L520.7 2757.2L525.1 2763.7L525.2 2743.6L561.2 2795.4L561.3 2776.9L565.5 2783.1L565.6 2764L567 2766.1L567.1 2747L568.5 2749.2L568.6 2730.1L577.7 2743.3L577.8 2723.9L582 2730.1L582.1 2710.4L585 2714.7L585.1 2694.4L610.4 2730.8L610.5 2711.6L616.7 2720.6L616.8 2703L634.7 2728.8L634.8 2709.2L655 2738.3L655.1 2722.4L656 2723.8L656.1 2707.9L659 2712.2L659.1 2690.7L707.5 2760.3L707.6 2741.2L737 2783.5L737.1 2766.9L739.3 2770.2L739.4 2753.5L746.8 2764.3L746.9 2746.6L749.3 2750.2L749.4 2732.6L765.5 2755.8L765.6 2732.8L767.8 2736.1L767.9 2713.1L770 2716.2L770.1 2693.2L777.5 2704L777.6 2677.1L779.5 2680L779.6 2653.1L781.5 2656L781.6 2629.1L787.8 2638.1L787.9 2621.5L789.2 2623.5L789.3 2606.9L794.6 2614.6L794.7 2593.4L800.5 2601.9L800.6 2588.5L809.2 2601L809.3 2585.3L850.8 2645L850.9 2629L858 2639.3L858.1 2624L878.8 2653.8L878.9 2638.8L886.7 2650.1L886.8 2633.9L892.2 2641.8L892.3 2626.5L894.2 2629.4L894.3 2598.2L907.5 2617.3L907.6 2603.1L913.2 2611.3L913.3 2595.7L923.9 2611L924 2595.7L978.6 2674.2L978.7 2663.4L994 2685.5L994.1 2668.4L996.3 2671.7L996.4 2659.8L998.5 2663L998.6 2651.1L1008.3 2665.2L1008.4 2644.5L1010.5 2647.7L1010.6 2627.1L1012.5 2629.9L1012.6 2609.3L1021.4 2622.1L1021.5 2609.3L1042.3 2639.3L1042.4 2626.5L1050.3 2638L1050.4 2624.3L1051.9 2626.6L1052 2613L1055.9 2618.7L1056 2606.8L1060.5 2613.4L1060.6 2598.9L1077 2622.6L1077.1 2610.5L1117.3 2668.3L1117.4 2654.8L1125 2665.8L1125.1 2654.8L1130.4 2662.5L1130.5 2649.9L1140.8 2664.8L1140.9 2652.4L1145.5 2659.1L1145.6 2646.2L1157.8 2663.8L1157.9 2651L1166.1 2662.9L1166.2 2650.7L1167.1 2652.2L1167.2 2640L1175.9 2652.6L1176 2641.3L1187 2657.2L1187.1 2645L1190.2 2649.6L1190.3 2637.3L1192 2639.9L1192.1 2627.7L1208.5 2651.4L1208.6 2640.6L1210.5 2643.5L1210.6 2632.7L1220.6 2647.2L1220.7 2635.1L1226.3 2643.3L1226.4 2632.7L1233.5 2643L1233.6 2631.9L1235.5 2634.8L1235.6 2623.7L1237.5 2626.5L1237.6 2615.4L1239.5 2618.3L1239.6 2607.2L1241 2609.3L1241.1 2598.2L1249.4 2610.2L1249.5 2598.2L1260.1 2613.5L1260.2 2602.1L1261.1 2603.5L1261.2 2592L1267.8 2601.6L1267.9 2592L1280.2 2609.8L1280.3 2599.1L1282.3 2602.2L1282.4 2591.5L1296.5 2611.9L1296.6 2601.9L1305.9 2615.4L1306 2605.6L1312.6 2615.2L1312.7 2604.3L1316.6 2610L1316.7 2599.7L1318.4 2602.3L1318.5 2592L1330.5 2609.4L1330.6 2600.6L1340.5 2614.9L1340.6 2604.3L1349.5 2617.2L1349.6 2608.4L1352 2612L1352.1 2603.2L1354.5 2606.8L1354.6 2598L1360.3 2606.3L1360.4 2597.4L1361.3 2598.9L1361.4 2590L1364.2 2594.2L1364.3 2587L1368.1 2592.6L1368.2 2585.4L1380.1 2602.6L1380.2 2597L1385.9 2605.3L1386 2594.5L1390.1 2600.5L1390.2 2589.6L1402.1 2606.8L1402.2 2598.2L1410.1 2609.7L1410.2 2601.9L1424.3 2622.3L1424.4 2613.8L1426.2 2616.5L1426.3 2608L1434.7 2620.2L1434.8 2609.3L1442.4 2620.3L1442.5 2609L1445 2612.7L1445.1 2601.4L1447.5 2605L1447.6 2593.7L1450 2597.2L1450.1 2585.9L1462.1 2603.3L1462.2 2597L1468.5 2606.2L1468.6 2597.9L1470.2 2600.3L1470.3 2592L1482.1 2609.1L1482.2 2600.6L1494.5 2618.4L1494.6 2610.5L1509 2631.3L1509.1 2623.9L1510 2625.3L1510.1 2617.9L1514.6 2624.5L1514.7 2616.9L1518.9 2623L1519 2615.4L1527.7 2628L1527.8 2620.4L1531.3 2625.5L1531.4 2617.9L1537.4 2626.7L1537.5 2617.5L1558.5 2647.8L1558.6 2640.4L1566.8 2652.4L1566.9 2645L1568.6 2647.6L1568.7 2640.3L1576.5 2651.6L1576.6 2646.5L1581.1 2653.1L1581.2 2645.9L1587 2654.3L1587.1 2647.1L1591.6 2653.7L1591.7 2646.5L1604.4 2664.9L1604.5 2658.8L1611.6 2669.1L1611.7 2662.5L1614 2666L1614.1 2659.4L1618.2 2665.4L1618.3 2658.8L1624.7 2668.1L1624.8 2661.3L1641.3 2685.1L1641.4 2677.3L1658.1 2701.4L1658.2 2698L1666.1 2709.5L1666.2 2703.8L1667.9 2706.4L1668 2700.7L1671.6 2706L1671.7 2702L1681.3 2715.9L1681.4 2695.8L1686 2702.5L1686.1 2698L1695.5 2711.6L1695.6 2703.4L1697.6 2706.4L1697.7 2698.2L1699.7 2701.2L1699.8 2696.2L1703.3 2701.4L1703.4 2696.4L1705.2 2699.1L1705.3 2694.1L1708.3 2698.5L1708.4 2693.5L1713.2 2700.5L1713.3 2695.5L1715.5 2698.8L1715.6 2693.8L1717.8 2697.1L1717.9 2692.1L1751.5 2740.4L1751.6 2735.2L1766 2756L1766.1 2750.6L1768.3 2753.9L1768.4 2748.4L1770.6 2751.7L1770.7 2746.3L1781.6 2762.1L1781.7 2756.1L1795 2775.3L1795.1 2771.5L1797.3 2774.8L1797.4 2770.9L1823.9 2809.1L1824 2806.6L1831.6 2817.6L1831.7 2814L1846.5 2835.4L1846.6 2832.5L1851.2 2839.2L1851.3 2834.8L1853.5 2838.1L1853.6 2833.7L1871.6 2859.7L1871.7 2858.3L1875.4 2863.8L1875.5 2859.9L1876.4 2861.3L1876.5 2857.5L1884.5 2869.1L1884.6 2865.3L1886.5 2868.1L1886.6 2864.3L1888.5 2867.1L1888.6 2863.3L1955.5 2959.4L1955.6 2957.5L1959.7 2963.5L1959.8 2960.5L1972.8 2979.3L1972.9 2976.7L1980.1 2987.2L1980.2 2986L1988.6 2998.2L1988.7 2996.2L1989.8 2998L1989.9 2996L2011 3026.4L2011.1 3025.7L2012.8 3028.2L2012.9 3027.5L2017.4 3034.1L2017.5 3031.6L2020.8 3036.5L2020.9 3034L2029.3 3046.2L2029.4 3044.8L2035 3052.9L2035.1 3051.5L2048 3070.1L2048.1 3069.5L2057 3082.4L2057.1 3081.6L2059.3 3084.9L2059.4 3084L2079.3 3112.7L2079.4 3110L2086.2 3119.9L2086.3 3118.8L2087.9 3121.3L2088 3120.2L2090.1 3123.3L2090.2 3122.3L2093.1 3126.6L2093.2 3125.5L2097.8 3132.2L2097.9 3131.9L2101.1 3136.7L2101.2 3136.4L2102.1 3137.8L2102.2 3137.5L2109 3147.4L2109.1 3147L2118.5 3160.6L2118.6 3158L2125.8 3168.5L2125.9 3168.2L2127.6 3170.8L2127.7 3170.5L2134.5 3184.8" stroke="#BEBEBE" stroke-width="5.93" stroke-linejoin="round" stroke-linecap="square" fill="none"/>
<path d="M325.6 3146.5V3223.1M328.6 3146.5V3223.1M337.7 3146.5V3223.1M343.4 3146.5V3223.1M350.5 3146.5V3223.1M355.2 3146.5V3223.1M356.2 3146.5V3223.1M367.4 3146.5V3223.1M378.9 3146.5V3223.1M381.8 3146.5V3223.1M394.6 3146.5V3223.1M395.6 3146.5V3223.1M403.4 3146.5V3223.1M404.4 3146.5V3223.1M413.1 3146.5V3223.1M416.5 3146.5V3223.1M418 3146.5V3223.1M419.5 3146.5V3223.1M433.2 3146.5V3223.1M452.4 3146.5V3223.1M457.4 3146.5V3223.1M459.6 3146.5V3223.1M464.3 3146.5V3223.1M479 3146.5V3223.1M493.7 3146.5V3223.1M499.4 3146.5V3223.1M506.3 3146.5V3223.1M508.7 3146.5V3223.1M519.6 3146.5V3223.1M520.6 3146.5V3223.1M525.1 3146.5V3223.1M561.2 3146.5V3223.1M565.5 3146.5V3223.1M568.5 3146.5V3223.1M577.7 3146.5V3223.1M582 3146.5V3223.1M585 3146.5V3223.1M610.4 3146.5V3223.1M616.7 3146.5V3223.1M634.7 3146.5V3223.1M655 3146.5V3223.1M656 3146.5V3223.1M659 3146.5V3223.1M707.5 3146.5V3223.1M737 3146.5V3223.1M739.3 3146.5V3223.1M746.8 3146.5V3223.1M749.3 3146.5V3223.1M765.5 3146.5V3223.1M767.8 3146.5V3223.1M770 3146.5V3223.1M777.5 3146.5V3223.1M779.5 3146.5V3223.1M781.5 3146.5V3223.1M787.8 3146.5V3223.1M789.2 3146.5V3223.1M794.6 3146.5V3223.1M800.5 3146.5V3223.1M809.2 3146.5V3223.1M850.8 3146.5V3223.1M858 3146.5V3223.1M878.8 3146.5V3223.1M886.7 3146.5V3223.1M892.2 3146.5V3223.1M894.2 3146.5V3223.1M907.5 3146.5V3223.1M913.2 3146.5V3223.1M923.9 3146.5V3223.1M978.6 3146.5V3223.1M994 3146.5V3223.1M996.3 3146.5V3223.1M998.5 3146.5V3223.1M1008.3 3146.5V3223.1M1010.5 3146.5V3223.1M1012.5 3146.5V3223.1M1021.4 3146.5V3223.1M1042.3 3146.5V3223.1M1050.3 3146.5V3223.1M1051.9 3146.5V3223.1M1055.9 3146.5V3223.1M1060.5 3146.5V3223.1M1077 3146.5V3223.1M1117.3 3146.5V3223.1M1125 3146.5V3223.1M1130.4 3146.5V3223.1M1140.8 3146.5V3223.1M1145.5 3146.5V3223.1M1157.8 3146.5V3223.1M1166.1 3146.5V3223.1M1167.1 3146.5V3223.1M1175.9 3146.5V3223.1M1187 3146.5V3223.1M1190.2 3146.5V3223.1M1192 3146.5V3223.1M1208.5 3146.5V3223.1M1210.5 3146.5V3223.1M1220.6 3146.5V3223.1M1226.3 3146.5V3223.1M1233.5 3146.5V3223.1M1235.5 3146.5V3223.1M1237.5 3146.5V3223.1M1239.5 3146.5V3223.1M1241 3146.5V3223.1M1249.4 3146.5V3223.1M1260.1 3146.5V3223.1M1261.1 3146.5V3223.1M1267.8 3146.5V3223.1M1280.2 3146.5V3223.1M1282.3 3146.5V3223.1M1296.5 3146.5V3223.1M1305.9 3146.5V3223.1M1312.6 3146.5V3223.1M1316.6 3146.5V3223.1M1318.4 3146.5V3223.1M1330.5 3146.5V3223.1M1340.5 3146.5V3223.1M1349.5 3146.5V3223.1M1352 3146.5V3223.1M1354.5 3146.5V3223.1M1360.3 3146.5V3223.1M1361.3 3146.5V3223.1M1364.2 3146.5V3223.1M1368.1 3146.5V3223.1M1380.1 3146.5V3223.1M1385.9 3146.5V3223.1M1390.1 3146.5V3223.1M1402.1 3146.5V3223.1M1410.1 3146.5V3223.1M1424.3 3146.5V3223.1M1426.2 3146.5V3223.1M1434.7 3146.5V3223.1M1442.4 3146.5V3223.1M1445 3146.5V3223.1M1447.5 3146.5V3223.1M1450 3146.5V3223.1M1462.1 3146.5V3223.1M1468.5 3146.5V3223.1M1470.2 3146.5V3223.1M1482.1 3146.5V3223.1M1494.5 3146.5V3223.1M1509 3146.5V3223.1M1510 3146.5V3223.1M1514.6 3146.5V3223.1M1518.9 3146.5V3223.1M1527.7 3146.5V3223.1M1531.3 3146.5V3223.1M1537.4 3146.5V3223.1M1558.5 3146.5V3223.1M1566.8 3146.5V3223.1M1568.6 3146.5V3223.1M1576.5 3146.5V3223.1M1581.1 3146.5V3223.1M1587 3146.5V3223.1M1591.6 3146.5V3223.1M1604.4 3146.5V3223.1M1611.6 3146.5V3223.1M1618.2 3146.5V3223.1M1624.7 3146.5V3223.1M1641.3 3146.5V3223.1M1658.1 3146.5V3223.1M1666.1 3146.5V3223.1M1667.9 3146.5V3223.1M1671.6 3146.5V3223.1M1681.3 3146.5V3223.1M1686 3146.5V3223.1M1695.5 3146.5V3223.1M1697.6 3146.5V3223.1M1699.7 3146.5V3223.1M1703.3 3146.5V3223.1M1705.2 3146.5V3223.1M1708.3 3146.5V3223.1M1713.2 3146.5V3223.1M1715.5 3146.5V3223.1M1717.8 3146.5V3223.1M1751.5 3146.5V3223.1M1766 3146.5V3223.1M1768.3 3146.5V3223.1M1770.6 3146.5V3223.1M1781.6 3146.5V3223.1M1795 3146.5V3223.1M1797.3 3146.5V3223.1M1823.9 3146.5V3223.1M1831.6 3146.5V3223.1M1846.5 3146.5V3223.1M1851.2 3146.5V3223.1M1853.5 3146.5V3223.1M1871.6 3146.5V3223.1M1875.4 3146.5V3223.1M1876.4 3146.5V3223.1M1884.5 3146.5V3223.1M1886.5 3146.5V3223.1M1888.5 3146.5V3223.1M1955.5 3146.5V3223.1M1959.7 3146.5V3223.1M1972.8 3146.5V3223.1M1980.1 3146.5V3223.1M1988.6 3146.5V3223.1M1989.8 3146.5V3223.1M2011 3146.5V3223.1M2012.8 3146.5V3223.1M2017.4 3146.5V3223.1M2020.8 3146.5V3223.1M2029.3 3146.5V3223.1M2035 3146.5V3223.1M2048 3146.5V3223.1M2057 3146.5V3223.1M2059.3 3146.5V3223.1M2079.3 3146.5V3223.1M2086.2 3146.5V3223.1M2090.1 3146.5V3223.1M2093.1 3146.5V3223.1M2097.8 3146.5V3223.1M2101.1 3146.5V3223.1M2102.1 3146.5V3223.1M2109 3146.5V3223.1M2118.5 3146.5V3223.1M2125.8 3146.5V3223.1M2127.6 3146.5V3223.1" stroke="#000" stroke-width="2.2" fill="none"/>
<path d="M567 3146.5V3223.1M1614 3146.5V3223.1M2087.9 3146.5V3223.1" stroke="#000" stroke-opacity="0.45" stroke-width="2.2" fill="none"/>
<path d="M212 3184.8H227M212 3056.5H227M212 2928.2H227M212 2799.9H227M212 2671.6H227M318 3255.3V3270.3M965.4 3255.3V3270.3M1612.9 3255.3V3270.3" stroke="#333333" stroke-width="5.9" fill="none"/>
<g font-family="'Liberation Sans', Arial, Helvetica, sans-serif" font-size="49" fill="#4D4D4D">
<text transform="translate(199.5 3203.1) scale(1 1.03)" text-anchor="end">0.00</text>
<text transform="translate(199.5 3074.8) scale(1 1.03)" text-anchor="end">0.05</text>
<text transform="translate(199.5 2946.5) scale(1 1.03)" text-anchor="end">0.10</text>
<text transform="translate(199.5 2818.2) scale(1 1.03)" text-anchor="end">0.15</text>
<text transform="translate(199.5 2689.9) scale(1 1.03)" text-anchor="end">0.20</text>
<text transform="translate(318 3318.5) scale(1 1.03)" text-anchor="middle">0</text>
<text transform="translate(965.4 3318.5) scale(1 1.03)" text-anchor="middle">5000</text>
<text transform="translate(1612.9 3318.5) scale(1 1.03)" text-anchor="middle">10000</text>
</g>
<g font-family="'Liberation Sans', Arial, Helvetica, sans-serif" fill="#000">
<text transform="translate(1226.7 2416.2) scale(1 1.03)" text-anchor="middle" font-size="73.6">Diencephalon (TAG group: p &lt; 0.01)</text>
<text transform="translate(1226.7 2509.2) scale(1 1.03)" text-anchor="middle" font-size="61.3">Empirical p = 0.923; NES = 0.868</text>
<text transform="translate(1226.7 3389.6) scale(1 1.03)" text-anchor="middle" font-size="61.3">Rank of gene by tissue z-score in ENCODE</text>
<text transform="translate(75.1 2905.1) rotate(-90) scale(1 1.03)" text-anchor="middle" font-size="61.3">enrichment score</text>
<text transform="translate(2318 2455.1) scale(1 1.03)" font-size="61.3">p</text>
<text transform="translate(2318 3049.7) scale(1 1.03)" font-size="61.3">p</text>
<circle cx="2349.5" cy="2523.2" r="4"/>
<text transform="translate(2411.5 2541.7) scale(1 1.03)" font-size="49">0</text>
<text transform="translate(2411.5 3416.5) scale(1 1.03)" font-size="49">0</text>
<circle cx="2349.5" cy="2587.3" r="7.5"/>
<text transform="translate(2411.5 2605.8) scale(1 1.03)" font-size="49">1</text>
<text transform="translate(2411.5 3358.2) scale(1 1.03)" font-size="49">1</text>
<circle cx="2349.5" cy="2651.3" r="10.9"/>
<text transform="translate(2411.5 2669.8) scale(1 1.03)" font-size="49">2</text>
<text transform="translate(2411.5 3299.8) scale(1 1.03)" font-size="49">2</text>
<circle cx="2349.5" cy="2715.4" r="14.3"/>
<text transform="translate(2411.5 2733.9) scale(1 1.03)" font-size="49">3</text>
<text transform="translate(2411.5 3241.5) scale(1 1.03)" font-size="49">3</text>
<circle cx="2349.5" cy="2779.4" r="17.7"/>
<text transform="translate(2411.5 2797.9) scale(1 1.03)" font-size="49">4</text>
<text transform="translate(2411.5 3183.1) scale(1 1.03)" font-size="49">4</text>
<circle cx="2349.5" cy="2843.5" r="21.1"/>
<text transform="translate(2411.5 2862) scale(1 1.03)" font-size="49">5</text>
<text transform="translate(2411.5 3124.7) scale(1 1.03)" font-size="49">5</text>
</g>
<rect x="2317.7" y="3086.5" width="64" height="319.6" fill="url(#cb)"/>
<path d="M2317.7 3398h12.8M2381.7 3398h-12.8M2317.7 3339.7h12.8M2381.7 3339.7h-12.8M2317.7 3281.3h12.8M2381.7 3281.3h-12.8M2317.7 3223h12.8M2381.7 3223h-12.8M2317.7 3164.6h12.8M2381.7 3164.6h-12.8M2317.7 3106.2h12.8M2381.7 3106.2h-12.8" stroke="#FFF" stroke-width="2.2" fill="none"/>
</g>
</svg></body></html>
